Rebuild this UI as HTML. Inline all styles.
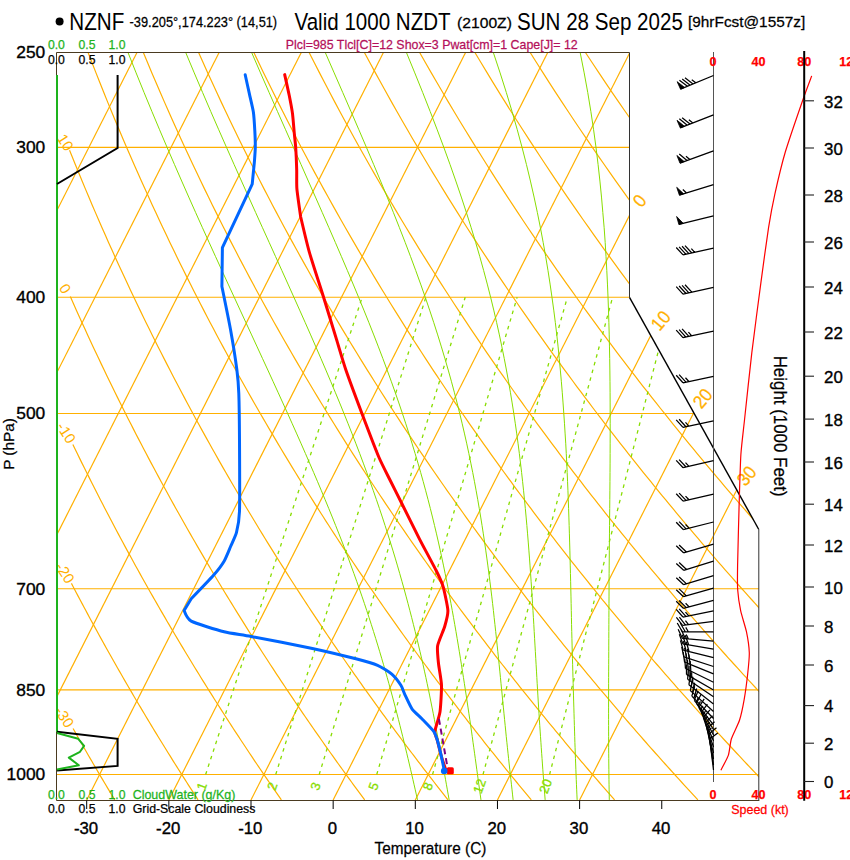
<!DOCTYPE html>
<html><head><meta charset="utf-8"><style>
html,body{margin:0;padding:0;background:#fff;width:850px;height:860px;overflow:hidden}
svg{display:block;font-family:'Liberation Sans', sans-serif}
</style></head><body>
<svg width="850" height="860" viewBox="0 0 850 860">
<rect width="850" height="860" fill="#fff"/>
<defs><clipPath id="sk"><polygon points="56.5,800.5 758.8,800.5 758.8,529.51 629.5,297.34 629.5,52.5 56.5,52.5"/></clipPath></defs>
<g clip-path="url(#sk)" fill="none">
<line x1="0" y1="774.5" x2="850" y2="774.5" stroke="#FFB000" stroke-width="1.15"/>
<line x1="0" y1="689.85" x2="850" y2="689.85" stroke="#FFB000" stroke-width="1.15"/>
<line x1="0" y1="588.73" x2="850" y2="588.73" stroke="#FFB000" stroke-width="1.15"/>
<line x1="0" y1="413.49" x2="850" y2="413.49" stroke="#FFB000" stroke-width="1.15"/>
<line x1="0" y1="297.27" x2="850" y2="297.27" stroke="#FFB000" stroke-width="1.15"/>
<line x1="0" y1="147.43" x2="850" y2="147.43" stroke="#FFB000" stroke-width="1.15"/>
<line x1="-241.9" y1="799.91" x2="136.98" y2="52.48" stroke="#FFB000" stroke-width="1.2"/>
<line x1="-159.75" y1="799.91" x2="219.13" y2="52.48" stroke="#FFB000" stroke-width="1.2"/>
<line x1="-77.6" y1="799.91" x2="301.28" y2="52.48" stroke="#FFB000" stroke-width="1.2"/>
<line x1="4.55" y1="799.91" x2="383.43" y2="52.48" stroke="#FFB000" stroke-width="1.2"/>
<line x1="86.7" y1="799.91" x2="465.58" y2="52.48" stroke="#FFB000" stroke-width="1.2"/>
<line x1="168.85" y1="799.91" x2="547.73" y2="52.48" stroke="#FFB000" stroke-width="1.2"/>
<line x1="251" y1="799.91" x2="629.88" y2="52.48" stroke="#FFB000" stroke-width="1.2"/>
<line x1="333.16" y1="799.91" x2="712.03" y2="52.48" stroke="#FFB000" stroke-width="1.2"/>
<line x1="415.31" y1="799.91" x2="794.18" y2="52.48" stroke="#FFB000" stroke-width="1.2"/>
<line x1="497.46" y1="799.91" x2="876.33" y2="52.48" stroke="#FFB000" stroke-width="1.2"/>
<line x1="579.61" y1="799.91" x2="958.48" y2="52.48" stroke="#FFB000" stroke-width="1.2"/>
<polyline points="114.77,799.91 113.27,797.42 111.76,794.92 110.25,792.41 108.74,789.89 107.22,787.36 105.7,784.81 104.18,782.25 102.65,779.68 101.12,777.09 99.59,774.5 98.05,771.89 96.51,769.26 94.96,766.63 93.41,763.98 91.86,761.31 90.3,758.63 88.74,755.94 87.18,753.24 85.61,750.52 84.04,747.78 82.46,745.03 80.88,742.27 79.3,739.49 77.71,736.7 76.12,733.89 74.53,731.07 73.08,728.5" stroke="#FFB000" stroke-width="1.2"/>
<polyline points="198.08,799.91 196.46,797.42 194.84,794.92 193.22,792.41 191.59,789.89 189.96,787.36 188.32,784.81 186.68,782.25 185.04,779.68 183.39,777.09 181.74,774.5 180.08,771.89 178.42,769.26 176.76,766.63 175.09,763.98 173.42,761.31 171.74,758.63 170.06,755.94 168.37,753.24 166.69,750.52 164.99,747.78 163.3,745.03 161.59,742.27 159.89,739.49 158.18,736.7 156.46,733.89 154.74,731.07 153.02,728.23 151.29,725.38 149.56,722.51 147.82,719.62 146.08,716.72 144.33,713.8 142.58,710.87 140.83,707.92 139.07,704.95 137.3,701.97 135.53,698.96 133.76,695.94 131.98,692.91 130.19,689.85 128.4,686.78 126.61,683.69 124.81,680.58 123.01,677.45 121.2,674.3 119.38,671.14 117.56,667.95 115.74,664.75 113.91,661.52 112.07,658.28 110.23,655.01 108.39,651.73 106.54,648.42 104.68,645.09 102.82,641.74 100.95,638.37 99.08,634.98 97.2,631.56 95.32,628.12 93.43,624.66 91.54,621.18 89.64,617.67 87.73,614.14 85.82,610.59 83.9,607.01 81.98,603.4 80.05,599.77 78.11,596.12 76.17,592.44 74.22,588.73 72.27,585 71.44,583.4" stroke="#FFB000" stroke-width="1.2"/>
<polyline points="281.38,799.91 279.65,797.42 277.92,794.92 276.18,792.41 274.43,789.89 272.69,787.36 270.94,784.81 269.18,782.25 267.42,779.68 265.66,777.09 263.89,774.5 262.11,771.89 260.33,769.26 258.55,766.63 256.77,763.98 254.97,761.31 253.18,758.63 251.38,755.94 249.57,753.24 247.76,750.52 245.95,747.78 244.13,745.03 242.3,742.27 240.47,739.49 238.64,736.7 236.8,733.89 234.96,731.07 233.11,728.23 231.26,725.38 229.4,722.51 227.53,719.62 225.66,716.72 223.79,713.8 221.91,710.87 220.03,707.92 218.14,704.95 216.24,701.97 214.34,698.96 212.44,695.94 210.53,692.91 208.61,689.85 206.69,686.78 204.76,683.69 202.83,680.58 200.89,677.45 198.95,674.3 197,671.14 195.05,667.95 193.08,664.75 191.12,661.52 189.15,658.28 187.17,655.01 185.18,651.73 183.19,648.42 181.2,645.09 179.2,641.74 177.19,638.37 175.17,634.98 173.15,631.56 171.13,628.12 169.09,624.66 167.05,621.18 165.01,617.67 162.96,614.14 160.9,610.59 158.83,607.01 156.76,603.4 154.68,599.77 152.6,596.12 150.5,592.44 148.41,588.73 146.3,585 144.19,581.24 142.07,577.45 139.94,573.63 137.81,569.79 135.67,565.92 133.52,562.02 131.36,558.08 129.2,554.12 127.03,550.13 124.85,546.11 122.67,542.06 120.48,537.97 118.28,533.86 116.07,529.71 113.85,525.52 111.63,521.31 109.4,517.05 107.16,512.77 104.91,508.44 102.65,504.09 100.39,499.69 98.12,495.26 95.84,490.79 93.55,486.28 91.25,481.73 88.94,477.14 86.63,472.51 84.3,467.84 81.97,463.13 79.63,458.37 77.28,453.57 74.92,448.72 72.87,444.5" stroke="#FFB000" stroke-width="1.2"/>
<polyline points="364.69,799.91 362.84,797.42 360.99,794.92 359.14,792.41 357.28,789.89 355.42,787.36 353.55,784.81 351.68,782.25 349.8,779.68 347.92,777.09 346.04,774.5 344.15,771.89 342.25,769.26 340.35,766.63 338.44,763.98 336.53,761.31 334.62,758.63 332.69,755.94 330.77,753.24 328.84,750.52 326.9,747.78 324.96,745.03 323.01,742.27 321.06,739.49 319.1,736.7 317.14,733.89 315.17,731.07 313.2,728.23 311.22,725.38 309.23,722.51 307.24,719.62 305.25,716.72 303.25,713.8 301.24,710.87 299.23,707.92 297.21,704.95 295.19,701.97 293.16,698.96 291.12,695.94 289.08,692.91 287.03,689.85 284.98,686.78 282.92,683.69 280.85,680.58 278.78,677.45 276.7,674.3 274.62,671.14 272.53,667.95 270.43,664.75 268.33,661.52 266.22,658.28 264.1,655.01 261.98,651.73 259.85,648.42 257.71,645.09 255.57,641.74 253.42,638.37 251.26,634.98 249.1,631.56 246.93,628.12 244.75,624.66 242.57,621.18 240.38,617.67 238.18,614.14 235.98,610.59 233.76,607.01 231.54,603.4 229.32,599.77 227.08,596.12 224.84,592.44 222.59,588.73 220.33,585 218.07,581.24 215.79,577.45 213.51,573.63 211.22,569.79 208.93,565.92 206.62,562.02 204.31,558.08 201.99,554.12 199.66,550.13 197.32,546.11 194.97,542.06 192.62,537.97 190.26,533.86 187.88,529.71 185.5,525.52 183.11,521.31 180.72,517.05 178.31,512.77 175.89,508.44 173.47,504.09 171.03,499.69 168.59,495.26 166.13,490.79 163.67,486.28 161.2,481.73 158.72,477.14 156.22,472.51 153.72,467.84 151.21,463.13 148.69,458.37 146.15,453.57 143.61,448.72 141.06,443.83 138.49,438.9 135.92,433.91 133.34,428.88 130.74,423.8 128.13,418.67 125.51,413.49 122.89,408.25 120.25,402.96 117.59,397.62 114.93,392.23 112.26,386.77 109.57,381.26 106.87,375.69 104.16,370.06 101.44,364.37 98.7,358.61 95.95,352.79 93.19,346.91 90.42,340.95 87.63,334.93 84.84,328.84 82.02,322.68 79.2,316.44 76.36,310.13 73.51,303.74 70.64,297.27 70.31,296.5" stroke="#FFB000" stroke-width="1.2"/>
<polyline points="447.99,799.91 446.03,797.42 444.07,794.92 442.1,792.41 440.13,789.89 438.15,787.36 436.17,784.81 434.18,782.25 432.19,779.68 430.19,777.09 428.19,774.5 426.18,771.89 424.16,769.26 422.14,766.63 420.12,763.98 418.09,761.31 416.05,758.63 414.01,755.94 411.96,753.24 409.91,750.52 407.85,747.78 405.79,745.03 403.72,742.27 401.65,739.49 399.57,736.7 397.48,733.89 395.39,731.07 393.29,728.23 391.18,725.38 389.07,722.51 386.96,719.62 384.83,716.72 382.71,713.8 380.57,710.87 378.43,707.92 376.28,704.95 374.13,701.97 371.97,698.96 369.8,695.94 367.63,692.91 365.45,689.85 363.26,686.78 361.07,683.69 358.87,680.58 356.67,677.45 354.45,674.3 352.23,671.14 350.01,667.95 347.78,664.75 345.54,661.52 343.29,658.28 341.03,655.01 338.77,651.73 336.5,648.42 334.23,645.09 331.94,641.74 329.65,638.37 327.36,634.98 325.05,631.56 322.74,628.12 320.42,624.66 318.09,621.18 315.75,617.67 313.41,614.14 311.05,610.59 308.69,607.01 306.33,603.4 303.95,599.77 301.57,596.12 299.17,592.44 296.77,588.73 294.36,585 291.94,581.24 289.52,577.45 287.08,573.63 284.64,569.79 282.19,565.92 279.73,562.02 277.25,558.08 274.77,554.12 272.29,550.13 269.79,546.11 267.28,542.06 264.76,537.97 262.24,533.86 259.7,529.71 257.16,525.52 254.6,521.31 252.04,517.05 249.46,512.77 246.88,508.44 244.28,504.09 241.68,499.69 239.06,495.26 236.43,490.79 233.8,486.28 231.15,481.73 228.49,477.14 225.82,472.51 223.14,467.84 220.45,463.13 217.75,458.37 215.03,453.57 212.31,448.72 209.57,443.83 206.82,438.9 204.06,433.91 201.28,428.88 198.5,423.8 195.7,418.67 192.89,413.49 190.07,408.25 187.23,402.96 184.39,397.62 181.53,392.23 178.65,386.77 175.76,381.26 172.86,375.69 169.95,370.06 167.02,364.37 164.08,358.61 161.12,352.79 158.15,346.91 155.17,340.95 152.17,334.93 149.15,328.84 146.12,322.68 143.08,316.44 140.02,310.13 136.95,303.74 133.86,297.27 130.75,290.72 127.63,284.08 124.49,277.36 121.33,270.55 118.16,263.65 114.97,256.66 111.77,249.58 108.54,242.39 105.3,235.11 102.04,227.72 98.77,220.23 95.47,212.62 92.16,204.91 88.83,197.07 85.48,189.12 82.11,181.05 78.72,172.84 75.31,164.51 71.89,156.04 69.55,150.2" stroke="#FFB000" stroke-width="1.2"/>
<polyline points="531.3,799.91 529.22,797.42 527.15,794.92 525.07,792.41 522.98,789.89 520.88,787.36 518.79,784.81 516.68,782.25 514.57,779.68 512.46,777.09 510.34,774.5 508.21,771.89 506.08,769.26 503.94,766.63 501.8,763.98 499.65,761.31 497.49,758.63 495.33,755.94 493.16,753.24 490.99,750.52 488.81,747.78 486.62,745.03 484.43,742.27 482.23,739.49 480.03,736.7 477.82,733.89 475.6,731.07 473.38,728.23 471.15,725.38 468.91,722.51 466.67,719.62 464.42,716.72 462.16,713.8 459.9,710.87 457.63,707.92 455.35,704.95 453.07,701.97 450.78,698.96 448.48,695.94 446.18,692.91 443.87,689.85 441.55,686.78 439.23,683.69 436.89,680.58 434.55,677.45 432.21,674.3 429.85,671.14 427.49,667.95 425.12,664.75 422.74,661.52 420.36,658.28 417.97,655.01 415.57,651.73 413.16,648.42 410.74,645.09 408.32,641.74 405.89,638.37 403.45,634.98 401,631.56 398.54,628.12 396.08,624.66 393.6,621.18 391.12,617.67 388.63,614.14 386.13,610.59 383.63,607.01 381.11,603.4 378.59,599.77 376.05,596.12 373.51,592.44 370.96,588.73 368.39,585 365.82,581.24 363.24,577.45 360.65,573.63 358.06,569.79 355.45,565.92 352.83,562.02 350.2,558.08 347.56,554.12 344.91,550.13 342.26,546.11 339.59,542.06 336.91,537.97 334.22,533.86 331.52,529.71 328.81,525.52 326.09,521.31 323.36,517.05 320.61,512.77 317.86,508.44 315.1,504.09 312.32,499.69 309.53,495.26 306.73,490.79 303.92,486.28 301.1,481.73 298.26,477.14 295.42,472.51 292.56,467.84 289.69,463.13 286.8,458.37 283.91,453.57 281,448.72 278.08,443.83 275.14,438.9 272.2,433.91 269.23,428.88 266.26,423.8 263.27,418.67 260.27,413.49 257.25,408.25 254.22,402.96 251.18,397.62 248.12,392.23 245.05,386.77 241.96,381.26 238.86,375.69 235.74,370.06 232.6,364.37 229.46,358.61 226.29,352.79 223.11,346.91 219.91,340.95 216.7,334.93 213.47,328.84 210.22,322.68 206.96,316.44 203.68,310.13 200.38,303.74 197.07,297.27 193.73,290.72 190.38,284.08 187.01,277.36 183.62,270.55 180.22,263.65 176.79,256.66 173.34,249.58 169.88,242.39 166.39,235.11 162.89,227.72 159.36,220.23 155.81,212.62 152.25,204.91 148.66,197.07 145.05,189.12 141.41,181.05 137.76,172.84 134.08,164.51 130.38,156.04 126.66,147.43 122.91,138.68 119.14,129.78 115.35,120.72 111.53,111.5 107.68,102.12 103.81,92.56 99.92,82.82 96,72.9 92.05,62.79 88.08,52.48" stroke="#FFB000" stroke-width="1.2"/>
<polyline points="614.6,799.91 612.42,797.42 610.22,794.92 608.03,792.41 605.83,789.89 603.62,787.36 601.4,784.81 599.18,782.25 596.96,779.68 594.72,777.09 592.49,774.5 590.24,771.89 587.99,769.26 585.74,766.63 583.47,763.98 581.2,761.31 578.93,758.63 576.65,755.94 574.36,753.24 572.06,750.52 569.76,747.78 567.45,745.03 565.14,742.27 562.82,739.49 560.49,736.7 558.16,733.89 555.81,731.07 553.47,728.23 551.11,725.38 548.75,722.51 546.38,719.62 544,716.72 541.62,713.8 539.23,710.87 536.83,707.92 534.43,704.95 532.01,701.97 529.59,698.96 527.17,695.94 524.73,692.91 522.29,689.85 519.84,686.78 517.38,683.69 514.91,680.58 512.44,677.45 509.96,674.3 507.47,671.14 504.97,667.95 502.47,664.75 499.95,661.52 497.43,658.28 494.9,655.01 492.36,651.73 489.81,648.42 487.26,645.09 484.69,641.74 482.12,638.37 479.54,634.98 476.95,631.56 474.35,628.12 471.74,624.66 469.12,621.18 466.49,617.67 463.86,614.14 461.21,610.59 458.56,607.01 455.89,603.4 453.22,599.77 450.54,596.12 447.84,592.44 445.14,588.73 442.43,585 439.7,581.24 436.97,577.45 434.23,573.63 431.47,569.79 428.71,565.92 425.93,562.02 423.15,558.08 420.35,554.12 417.54,550.13 414.72,546.11 411.89,542.06 409.05,537.97 406.2,533.86 403.34,529.71 400.46,525.52 397.58,521.31 394.68,517.05 391.77,512.77 388.84,508.44 385.91,504.09 382.96,499.69 380,495.26 377.03,490.79 374.05,486.28 371.05,481.73 368.04,477.14 365.01,472.51 361.98,467.84 358.93,463.13 355.86,458.37 352.79,453.57 349.69,448.72 346.59,443.83 343.47,438.9 340.33,433.91 337.18,428.88 334.02,423.8 330.84,418.67 327.65,413.49 324.44,408.25 321.21,402.96 317.97,397.62 314.72,392.23 311.44,386.77 308.16,381.26 304.85,375.69 301.53,370.06 298.19,364.37 294.83,358.61 291.46,352.79 288.07,346.91 284.66,340.95 281.23,334.93 277.79,328.84 274.32,322.68 270.84,316.44 267.34,310.13 263.82,303.74 260.28,297.27 256.72,290.72 253.14,284.08 249.54,277.36 245.91,270.55 242.27,263.65 238.61,256.66 234.92,249.58 231.21,242.39 227.48,235.11 223.73,227.72 219.95,220.23 216.16,212.62 212.33,204.91 208.49,197.07 204.61,189.12 200.72,181.05 196.8,172.84 192.85,164.51 188.88,156.04 184.88,147.43 180.85,138.68 176.8,129.78 172.72,120.72 168.61,111.5 164.47,102.12 160.3,92.56 156.11,82.82 151.88,72.9 147.63,62.79 143.34,52.48" stroke="#FFB000" stroke-width="1.2"/>
<polyline points="697.9,799.91 695.61,797.42 693.3,794.92 690.99,792.41 688.67,789.89 686.35,787.36 684.02,784.81 681.68,782.25 679.34,779.68 676.99,777.09 674.64,774.5 672.28,771.89 669.91,769.26 667.53,766.63 665.15,763.98 662.76,761.31 660.37,758.63 657.96,755.94 655.55,753.24 653.14,750.52 650.72,747.78 648.29,745.03 645.85,742.27 643.4,739.49 640.95,736.7 638.49,733.89 636.03,731.07 633.56,728.23 631.07,725.38 628.59,722.51 626.09,719.62 623.59,716.72 621.08,713.8 618.56,710.87 616.03,707.92 613.5,704.95 610.96,701.97 608.41,698.96 605.85,695.94 603.28,692.91 600.71,689.85 598.13,686.78 595.53,683.69 592.94,680.58 590.33,677.45 587.71,674.3 585.09,671.14 582.45,667.95 579.81,664.75 577.16,661.52 574.5,658.28 571.83,655.01 569.16,651.73 566.47,648.42 563.77,645.09 561.07,641.74 558.35,638.37 555.63,634.98 552.9,631.56 550.15,628.12 547.4,624.66 544.64,621.18 541.87,617.67 539.08,614.14 536.29,610.59 533.49,607.01 530.68,603.4 527.85,599.77 525.02,596.12 522.18,592.44 519.32,588.73 516.46,585 513.58,581.24 510.69,577.45 507.8,573.63 504.89,569.79 501.97,565.92 499.03,562.02 496.09,558.08 493.14,554.12 490.17,550.13 487.19,546.11 484.2,542.06 481.2,537.97 478.18,533.86 475.15,529.71 472.12,525.52 469.06,521.31 466,517.05 462.92,512.77 459.83,508.44 456.72,504.09 453.61,499.69 450.48,495.26 447.33,490.79 444.17,486.28 441,481.73 437.81,477.14 434.61,472.51 431.4,467.84 428.17,463.13 424.92,458.37 421.66,453.57 418.39,448.72 415.1,443.83 411.79,438.9 408.47,433.91 405.13,428.88 401.78,423.8 398.41,418.67 395.02,413.49 391.62,408.25 388.2,402.96 384.77,397.62 381.31,392.23 377.84,386.77 374.35,381.26 370.84,375.69 367.32,370.06 363.77,364.37 360.21,358.61 356.63,352.79 353.03,346.91 349.41,340.95 345.77,334.93 342.11,328.84 338.42,322.68 334.72,316.44 331,310.13 327.26,303.74 323.49,297.27 319.7,290.72 315.89,284.08 312.06,277.36 308.21,270.55 304.33,263.65 300.43,256.66 296.5,249.58 292.55,242.39 288.57,235.11 284.57,227.72 280.55,220.23 276.5,212.62 272.42,204.91 268.31,197.07 264.18,189.12 260.02,181.05 255.83,172.84 251.62,164.51 247.37,156.04 243.1,147.43 238.79,138.68 234.46,129.78 230.09,120.72 225.69,111.5 221.26,102.12 216.8,92.56 212.3,82.82 207.77,72.9 203.2,62.79 198.6,52.48" stroke="#FFB000" stroke-width="1.2"/>
<polyline points="781.21,799.91 778.8,797.42 776.38,794.92 773.95,792.41 771.52,789.89 769.08,787.36 766.64,784.81 764.18,782.25 761.73,779.68 759.26,777.09 756.79,774.5 754.31,771.89 751.82,769.26 749.33,766.63 746.83,763.98 744.32,761.31 741.8,758.63 739.28,755.94 736.75,753.24 734.21,750.52 731.67,747.78 729.12,745.03 726.56,742.27 723.99,739.49 721.42,736.7 718.83,733.89 716.24,731.07 713.65,728.23 711.04,725.38 708.42,722.51 705.8,719.62 703.17,716.72 700.53,713.8 697.89,710.87 695.23,707.92 692.57,704.95 689.9,701.97 687.22,698.96 684.53,695.94 681.83,692.91 679.13,689.85 676.41,686.78 673.69,683.69 670.96,680.58 668.21,677.45 665.46,674.3 662.7,671.14 659.94,667.95 657.16,664.75 654.37,661.52 651.57,658.28 648.77,655.01 645.95,651.73 643.12,648.42 640.29,645.09 637.44,641.74 634.59,638.37 631.72,634.98 628.85,631.56 625.96,628.12 623.06,624.66 620.16,621.18 617.24,617.67 614.31,614.14 611.37,610.59 608.42,607.01 605.46,603.4 602.49,599.77 599.51,596.12 596.51,592.44 593.51,588.73 590.49,585 587.46,581.24 584.42,577.45 581.37,573.63 578.3,569.79 575.23,565.92 572.14,562.02 569.04,558.08 565.92,554.12 562.8,550.13 559.66,546.11 556.51,542.06 553.34,537.97 550.16,533.86 546.97,529.71 543.77,525.52 540.55,521.31 537.32,517.05 534.07,512.77 530.81,508.44 527.54,504.09 524.25,499.69 520.95,495.26 517.63,490.79 514.3,486.28 510.95,481.73 507.59,477.14 504.21,472.51 500.81,467.84 497.41,463.13 493.98,458.37 490.54,453.57 487.08,448.72 483.61,443.83 480.12,438.9 476.61,433.91 473.08,428.88 469.54,423.8 465.98,418.67 462.4,413.49 458.81,408.25 455.19,402.96 451.56,397.62 447.91,392.23 444.24,386.77 440.55,381.26 436.84,375.69 433.11,370.06 429.36,364.37 425.59,358.61 421.8,352.79 417.99,346.91 414.15,340.95 410.3,334.93 406.42,328.84 402.52,322.68 398.6,316.44 394.66,310.13 390.69,303.74 386.7,297.27 382.69,290.72 378.65,284.08 374.59,277.36 370.5,270.55 366.38,263.65 362.24,256.66 358.08,249.58 353.88,242.39 349.66,235.11 345.42,227.72 341.14,220.23 336.84,212.62 332.5,204.91 328.14,197.07 323.75,189.12 319.32,181.05 314.87,172.84 310.38,164.51 305.87,156.04 301.32,147.43 296.73,138.68 292.11,129.78 287.46,120.72 282.77,111.5 278.05,102.12 273.29,92.56 268.49,82.82 263.65,72.9 258.78,62.79 253.86,52.48" stroke="#FFB000" stroke-width="1.2"/>
<polyline points="864.51,799.91 861.99,797.42 859.45,794.92 856.92,792.41 854.37,789.89 851.81,787.36 849.25,784.81 846.69,782.25 844.11,779.68 841.53,777.09 838.94,774.5 836.34,771.89 833.74,769.26 831.12,766.63 828.5,763.98 825.88,761.31 823.24,758.63 820.6,755.94 817.95,753.24 815.29,750.52 812.62,747.78 809.95,745.03 807.27,742.27 804.58,739.49 801.88,736.7 799.17,733.89 796.46,731.07 793.73,728.23 791,725.38 788.26,722.51 785.51,719.62 782.76,716.72 779.99,713.8 777.22,710.87 774.43,707.92 771.64,704.95 768.84,701.97 766.03,698.96 763.21,695.94 760.38,692.91 757.55,689.85 754.7,686.78 751.84,683.69 748.98,680.58 746.1,677.45 743.22,674.3 740.32,671.14 737.42,667.95 734.5,664.75 731.58,661.52 728.64,658.28 725.7,655.01 722.74,651.73 719.78,648.42 716.8,645.09 713.82,641.74 710.82,638.37 707.81,634.98 704.79,631.56 701.77,628.12 698.72,624.66 695.67,621.18 692.61,617.67 689.54,614.14 686.45,610.59 683.35,607.01 680.24,603.4 677.12,599.77 673.99,596.12 670.85,592.44 667.69,588.73 664.52,585 661.34,581.24 658.14,577.45 654.94,573.63 651.72,569.79 648.49,565.92 645.24,562.02 641.98,558.08 638.71,554.12 635.42,550.13 632.13,546.11 628.81,542.06 625.49,537.97 622.14,533.86 618.79,529.71 615.42,525.52 612.04,521.31 608.64,517.05 605.22,512.77 601.8,508.44 598.35,504.09 594.89,499.69 591.42,495.26 587.93,490.79 584.42,486.28 580.9,481.73 577.36,477.14 573.81,472.51 570.23,467.84 566.64,463.13 563.04,458.37 559.42,453.57 555.77,448.72 552.12,443.83 548.44,438.9 544.75,433.91 541.03,428.88 537.3,423.8 533.55,418.67 529.78,413.49 525.99,408.25 522.18,402.96 518.35,397.62 514.5,392.23 510.63,386.77 506.74,381.26 502.83,375.69 498.9,370.06 494.94,364.37 490.97,358.61 486.97,352.79 482.94,346.91 478.9,340.95 474.83,334.93 470.74,328.84 466.62,322.68 462.48,316.44 458.32,310.13 454.13,303.74 449.91,297.27 445.67,290.72 441.4,284.08 437.11,277.36 432.79,270.55 428.44,263.65 424.06,256.66 419.65,249.58 415.22,242.39 410.75,235.11 406.26,227.72 401.73,220.23 397.18,212.62 392.59,204.91 387.97,197.07 383.32,189.12 378.63,181.05 373.91,172.84 369.15,164.51 364.36,156.04 359.53,147.43 354.67,138.68 349.77,129.78 344.83,120.72 339.85,111.5 334.84,102.12 329.78,92.56 324.68,82.82 319.54,72.9 314.35,62.79 309.12,52.48" stroke="#FFB000" stroke-width="1.2"/>
<polyline points="947.82,799.91 945.18,797.42 942.53,794.92 939.88,792.41 937.22,789.89 934.55,787.36 931.87,784.81 929.19,782.25 926.49,779.68 923.79,777.09 921.09,774.5 918.37,771.89 915.65,769.26 912.92,766.63 910.18,763.98 907.43,761.31 904.68,758.63 901.92,755.94 899.14,753.24 896.37,750.52 893.58,747.78 890.78,745.03 887.98,742.27 885.16,739.49 882.34,736.7 879.51,733.89 876.67,731.07 873.82,728.23 870.97,725.38 868.1,722.51 865.23,719.62 862.34,716.72 859.45,713.8 856.55,710.87 853.64,707.92 850.71,704.95 847.78,701.97 844.84,698.96 841.89,695.94 838.93,692.91 835.97,689.85 832.99,686.78 830,683.69 827,680.58 823.99,677.45 820.97,674.3 817.94,671.14 814.9,667.95 811.85,664.75 808.79,661.52 805.72,658.28 802.63,655.01 799.54,651.73 796.43,648.42 793.32,645.09 790.19,641.74 787.05,638.37 783.9,634.98 780.74,631.56 777.57,628.12 774.39,624.66 771.19,621.18 767.98,617.67 764.76,614.14 761.53,610.59 758.28,607.01 755.03,603.4 751.76,599.77 748.48,596.12 745.18,592.44 741.87,588.73 738.55,585 735.22,581.24 731.87,577.45 728.51,573.63 725.13,569.79 721.75,565.92 718.34,562.02 714.93,558.08 711.5,554.12 708.05,550.13 704.59,546.11 701.12,542.06 697.63,537.97 694.13,533.86 690.61,529.71 687.07,525.52 683.52,521.31 679.96,517.05 676.38,512.77 672.78,508.44 669.17,504.09 665.54,499.69 661.89,495.26 658.23,490.79 654.55,486.28 650.85,481.73 647.13,477.14 643.4,472.51 639.65,467.84 635.88,463.13 632.1,458.37 628.29,453.57 624.47,448.72 620.63,443.83 616.76,438.9 612.88,433.91 608.98,428.88 605.06,423.8 601.12,418.67 597.16,413.49 593.17,408.25 589.17,402.96 585.14,397.62 581.1,392.23 577.03,386.77 572.94,381.26 568.82,375.69 564.69,370.06 560.53,364.37 556.34,358.61 552.14,352.79 547.9,346.91 543.65,340.95 539.36,334.93 535.06,328.84 530.72,322.68 526.37,316.44 521.98,310.13 517.57,303.74 513.13,297.27 508.66,290.72 504.16,284.08 499.63,277.36 495.08,270.55 490.49,263.65 485.88,256.66 481.23,249.58 476.55,242.39 471.85,235.11 467.1,227.72 462.33,220.23 457.52,212.62 452.68,204.91 447.8,197.07 442.88,189.12 437.93,181.05 432.94,172.84 427.92,164.51 422.86,156.04 417.75,147.43 412.61,138.68 407.43,129.78 402.2,120.72 396.93,111.5 391.62,102.12 386.27,92.56 380.87,82.82 375.42,72.9 369.93,62.79 364.39,52.48" stroke="#FFB000" stroke-width="1.2"/>
<polyline points="1031.12,799.91 1028.37,797.42 1025.61,794.92 1022.84,792.41 1020.06,789.89 1017.28,787.36 1014.49,784.81 1011.69,782.25 1008.88,779.68 1006.06,777.09 1003.24,774.5 1000.41,771.89 997.56,769.26 994.71,766.63 991.86,763.98 988.99,761.31 986.12,758.63 983.23,755.94 980.34,753.24 977.44,750.52 974.53,747.78 971.61,745.03 968.69,742.27 965.75,739.49 962.8,736.7 959.85,733.89 956.89,731.07 953.91,728.23 950.93,725.38 947.94,722.51 944.94,719.62 941.93,716.72 938.91,713.8 935.88,710.87 932.84,707.92 929.79,704.95 926.73,701.97 923.66,698.96 920.58,695.94 917.49,692.91 914.38,689.85 911.27,686.78 908.15,683.69 905.02,680.58 901.88,677.45 898.72,674.3 895.56,671.14 892.38,667.95 889.19,664.75 886,661.52 882.79,658.28 879.57,655.01 876.33,651.73 873.09,648.42 869.83,645.09 866.57,641.74 863.29,638.37 860,634.98 856.69,631.56 853.38,628.12 850.05,624.66 846.71,621.18 843.35,617.67 839.99,614.14 836.61,610.59 833.22,607.01 829.81,603.4 826.39,599.77 822.96,596.12 819.52,592.44 816.06,588.73 812.58,585 809.1,581.24 805.6,577.45 802.08,573.63 798.55,569.79 795.01,565.92 791.45,562.02 787.87,558.08 784.28,554.12 780.68,550.13 777.06,546.11 773.43,542.06 769.77,537.97 766.11,533.86 762.42,529.71 758.73,525.52 755.01,521.31 751.28,517.05 747.53,512.77 743.76,508.44 739.98,504.09 736.18,499.69 732.36,495.26 728.53,490.79 724.67,486.28 720.8,481.73 716.91,477.14 713,472.51 709.07,467.84 705.12,463.13 701.16,458.37 697.17,453.57 693.16,448.72 689.14,443.83 685.09,438.9 681.02,433.91 676.93,428.88 672.82,423.8 668.69,418.67 664.53,413.49 660.36,408.25 656.16,402.96 651.94,397.62 647.69,392.23 643.42,386.77 639.13,381.26 634.82,375.69 630.48,370.06 626.11,364.37 621.72,358.61 617.3,352.79 612.86,346.91 608.39,340.95 603.9,334.93 599.37,328.84 594.82,322.68 590.25,316.44 585.64,310.13 581,303.74 576.34,297.27 571.64,290.72 566.92,284.08 562.16,277.36 557.37,270.55 552.55,263.65 547.7,256.66 542.81,249.58 537.89,242.39 532.94,235.11 527.95,227.72 522.92,220.23 517.86,212.62 512.76,204.91 507.62,197.07 502.45,189.12 497.24,181.05 491.98,172.84 486.69,164.51 481.35,156.04 475.97,147.43 470.55,138.68 465.08,129.78 459.57,120.72 454.02,111.5 448.41,102.12 442.76,92.56 437.06,82.82 431.31,72.9 425.5,62.79 419.65,52.48" stroke="#FFB000" stroke-width="1.2"/>
<polyline points="1114.43,799.91 1111.56,797.42 1108.69,794.92 1105.8,792.41 1102.91,789.89 1100.01,787.36 1097.1,784.81 1094.19,782.25 1091.26,779.68 1088.33,777.09 1085.39,774.5 1082.44,771.89 1079.48,769.26 1076.51,766.63 1073.53,763.98 1070.55,761.31 1067.55,758.63 1064.55,755.94 1061.54,753.24 1058.52,750.52 1055.49,747.78 1052.44,745.03 1049.39,742.27 1046.34,739.49 1043.27,736.7 1040.19,733.89 1037.1,731.07 1034,728.23 1030.89,725.38 1027.78,722.51 1024.65,719.62 1021.51,716.72 1018.36,713.8 1015.21,710.87 1012.04,707.92 1008.86,704.95 1005.67,701.97 1002.47,698.96 999.26,695.94 996.04,692.91 992.8,689.85 989.56,686.78 986.31,683.69 983.04,680.58 979.76,677.45 976.47,674.3 973.17,671.14 969.86,667.95 966.54,664.75 963.2,661.52 959.86,658.28 956.5,655.01 953.13,651.73 949.74,648.42 946.35,645.09 942.94,641.74 939.52,638.37 936.09,634.98 932.64,631.56 929.18,628.12 925.71,624.66 922.22,621.18 918.73,617.67 915.21,614.14 911.69,610.59 908.15,607.01 904.59,603.4 901.03,599.77 897.45,596.12 893.85,592.44 890.24,588.73 886.61,585 882.97,581.24 879.32,577.45 875.65,573.63 871.97,569.79 868.27,565.92 864.55,562.02 860.82,558.08 857.07,554.12 853.31,550.13 849.53,546.11 845.73,542.06 841.92,537.97 838.09,533.86 834.24,529.71 830.38,525.52 826.5,521.31 822.6,517.05 818.68,512.77 814.75,508.44 810.79,504.09 806.82,499.69 802.83,495.26 798.83,490.79 794.8,486.28 790.75,481.73 786.68,477.14 782.6,472.51 778.49,467.84 774.36,463.13 770.21,458.37 766.05,453.57 761.86,448.72 757.65,443.83 753.41,438.9 749.16,433.91 744.88,428.88 740.58,423.8 736.26,418.67 731.91,413.49 727.54,408.25 723.15,402.96 718.73,397.62 714.29,392.23 709.82,386.77 705.33,381.26 700.81,375.69 696.27,370.06 691.7,364.37 687.1,358.61 682.47,352.79 677.82,346.91 673.14,340.95 668.43,334.93 663.69,328.84 658.92,322.68 654.13,316.44 649.3,310.13 644.44,303.74 639.55,297.27 634.63,290.72 629.67,284.08 624.68,277.36 619.66,270.55 614.61,263.65 609.51,256.66 604.39,249.58 599.23,242.39 594.03,235.11 588.79,227.72 583.51,220.23 578.2,212.62 572.85,204.91 567.45,197.07 562.02,189.12 556.54,181.05 551.02,172.84 545.45,164.51 539.85,156.04 534.19,147.43 528.49,138.68 522.74,129.78 516.94,120.72 511.1,111.5 505.2,102.12 499.25,92.56 493.25,82.82 487.19,72.9 481.08,62.79 474.91,52.48" stroke="#FFB000" stroke-width="1.2"/>
<polyline points="1197.73,799.91 1194.75,797.42 1191.76,794.92 1188.76,792.41 1185.76,789.89 1182.74,787.36 1179.72,784.81 1176.69,782.25 1173.65,779.68 1170.6,777.09 1167.54,774.5 1164.47,771.89 1161.39,769.26 1158.31,766.63 1155.21,763.98 1152.11,761.31 1148.99,758.63 1145.87,755.94 1142.73,753.24 1139.59,750.52 1136.44,747.78 1133.28,745.03 1130.1,742.27 1126.92,739.49 1123.73,736.7 1120.53,733.89 1117.31,731.07 1114.09,728.23 1110.86,725.38 1107.62,722.51 1104.36,719.62 1101.1,716.72 1097.82,713.8 1094.54,710.87 1091.24,707.92 1087.93,704.95 1084.61,701.97 1081.28,698.96 1077.94,695.94 1074.59,692.91 1071.22,689.85 1067.85,686.78 1064.46,683.69 1061.06,680.58 1057.65,677.45 1054.23,674.3 1050.79,671.14 1047.34,667.95 1043.89,664.75 1040.41,661.52 1036.93,658.28 1033.43,655.01 1029.92,651.73 1026.4,648.42 1022.86,645.09 1019.32,641.74 1015.75,638.37 1012.18,634.98 1008.59,631.56 1004.99,628.12 1001.37,624.66 997.74,621.18 994.1,617.67 990.44,614.14 986.77,610.59 983.08,607.01 979.38,603.4 975.66,599.77 971.93,596.12 968.18,592.44 964.42,588.73 960.65,585 956.85,581.24 953.05,577.45 949.22,573.63 945.38,569.79 941.53,565.92 937.65,562.02 933.76,558.08 929.86,554.12 925.93,550.13 921.99,546.11 918.04,542.06 914.06,537.97 910.07,533.86 906.06,529.71 902.03,525.52 897.98,521.31 893.92,517.05 889.83,512.77 885.73,508.44 881.61,504.09 877.47,499.69 873.31,495.26 869.12,490.79 864.92,486.28 860.7,481.73 856.46,477.14 852.19,472.51 847.91,467.84 843.6,463.13 839.27,458.37 834.92,453.57 830.55,448.72 826.15,443.83 821.74,438.9 817.29,433.91 812.83,428.88 808.34,423.8 803.83,418.67 799.29,413.49 794.73,408.25 790.14,402.96 785.52,397.62 780.88,392.23 776.22,386.77 771.52,381.26 766.8,375.69 762.06,370.06 757.28,364.37 752.47,358.61 747.64,352.79 742.78,346.91 737.89,340.95 732.96,334.93 728.01,328.84 723.02,322.68 718.01,316.44 712.96,310.13 707.88,303.74 702.76,297.27 697.61,290.72 692.43,284.08 687.21,277.36 681.95,270.55 676.66,263.65 671.33,256.66 665.97,249.58 660.56,242.39 655.12,235.11 649.63,227.72 644.11,220.23 638.54,212.62 632.93,204.91 627.28,197.07 621.58,189.12 615.84,181.05 610.06,172.84 604.22,164.51 598.34,156.04 592.41,147.43 586.43,138.68 580.4,129.78 574.32,120.72 568.18,111.5 561.99,102.12 555.74,92.56 549.44,82.82 543.07,72.9 536.65,62.79 530.17,52.48" stroke="#FFB000" stroke-width="1.2"/>
<polyline points="1281.04,799.91 1277.94,797.42 1274.84,794.92 1271.73,792.41 1268.61,789.89 1265.48,787.36 1262.34,784.81 1259.19,782.25 1256.03,779.68 1252.86,777.09 1249.69,774.5 1246.5,771.89 1243.31,769.26 1240.1,766.63 1236.89,763.98 1233.66,761.31 1230.43,758.63 1227.19,755.94 1223.93,753.24 1220.67,750.52 1217.39,747.78 1214.11,745.03 1210.81,742.27 1207.51,739.49 1204.19,736.7 1200.87,733.89 1197.53,731.07 1194.18,728.23 1190.82,725.38 1187.45,722.51 1184.07,719.62 1180.68,716.72 1177.28,713.8 1173.86,710.87 1170.44,707.92 1167,704.95 1163.55,701.97 1160.09,698.96 1156.62,695.94 1153.14,692.91 1149.64,689.85 1146.13,686.78 1142.61,683.69 1139.08,680.58 1135.54,677.45 1131.98,674.3 1128.41,671.14 1124.83,667.95 1121.23,664.75 1117.62,661.52 1114,658.28 1110.37,655.01 1106.72,651.73 1103.06,648.42 1099.38,645.09 1095.69,641.74 1091.99,638.37 1088.27,634.98 1084.54,631.56 1080.79,628.12 1077.03,624.66 1073.26,621.18 1069.47,617.67 1065.67,614.14 1061.85,610.59 1058.01,607.01 1054.16,603.4 1050.3,599.77 1046.42,596.12 1042.52,592.44 1038.61,588.73 1034.68,585 1030.73,581.24 1026.77,577.45 1022.79,573.63 1018.8,569.79 1014.79,565.92 1010.76,562.02 1006.71,558.08 1002.64,554.12 998.56,550.13 994.46,546.11 990.34,542.06 986.21,537.97 982.05,533.86 977.88,529.71 973.68,525.52 969.47,521.31 965.24,517.05 960.99,512.77 956.72,508.44 952.42,504.09 948.11,499.69 943.78,495.26 939.42,490.79 935.05,486.28 930.65,481.73 926.23,477.14 921.79,472.51 917.33,467.84 912.84,463.13 908.33,458.37 903.8,453.57 899.24,448.72 894.66,443.83 890.06,438.9 885.43,433.91 880.78,428.88 876.1,423.8 871.4,418.67 866.67,413.49 861.91,408.25 857.13,402.96 852.32,397.62 847.48,392.23 842.61,386.77 837.72,381.26 832.8,375.69 827.85,370.06 822.86,364.37 817.85,358.61 812.81,352.79 807.74,346.91 802.63,340.95 797.5,334.93 792.33,328.84 787.12,322.68 781.89,316.44 776.62,310.13 771.31,303.74 765.97,297.27 760.6,290.72 755.18,284.08 749.73,277.36 744.24,270.55 738.72,263.65 733.15,256.66 727.54,249.58 721.9,242.39 716.21,235.11 710.48,227.72 704.7,220.23 698.88,212.62 693.02,204.91 687.11,197.07 681.15,189.12 675.15,181.05 669.09,172.84 662.99,164.51 656.84,156.04 650.63,147.43 644.37,138.68 638.06,129.78 631.69,120.72 625.26,111.5 618.78,102.12 612.23,92.56 605.63,82.82 598.96,72.9 592.23,62.79 585.43,52.48" stroke="#FFB000" stroke-width="1.2"/>
<polyline points="1364.34,799.91 1361.13,797.42 1357.92,794.92 1354.69,792.41 1351.45,789.89 1348.21,787.36 1344.95,784.81 1341.69,782.25 1338.42,779.68 1335.13,777.09 1331.84,774.5 1328.54,771.89 1325.22,769.26 1321.9,766.63 1318.56,763.98 1315.22,761.31 1311.87,758.63 1308.5,755.94 1305.13,753.24 1301.74,750.52 1298.35,747.78 1294.94,745.03 1291.52,742.27 1288.09,739.49 1284.66,736.7 1281.2,733.89 1277.74,731.07 1274.27,728.23 1270.79,725.38 1267.29,722.51 1263.78,719.62 1260.27,716.72 1256.74,713.8 1253.19,710.87 1249.64,707.92 1246.07,704.95 1242.5,701.97 1238.91,698.96 1235.3,695.94 1231.69,692.91 1228.06,689.85 1224.42,686.78 1220.77,683.69 1217.1,680.58 1213.42,677.45 1209.73,674.3 1206.03,671.14 1202.31,667.95 1198.58,664.75 1194.83,661.52 1191.07,658.28 1187.3,655.01 1183.51,651.73 1179.71,648.42 1175.89,645.09 1172.07,641.74 1168.22,638.37 1164.36,634.98 1160.49,631.56 1156.6,628.12 1152.69,624.66 1148.78,621.18 1144.84,617.67 1140.89,614.14 1136.92,610.59 1132.94,607.01 1128.95,603.4 1124.93,599.77 1120.9,596.12 1116.85,592.44 1112.79,588.73 1108.71,585 1104.61,581.24 1100.5,577.45 1096.36,573.63 1092.21,569.79 1088.05,565.92 1083.86,562.02 1079.65,558.08 1075.43,554.12 1071.19,550.13 1066.93,546.11 1062.65,542.06 1058.35,537.97 1054.03,533.86 1049.69,529.71 1045.34,525.52 1040.96,521.31 1036.56,517.05 1032.14,512.77 1027.7,508.44 1023.24,504.09 1018.75,499.69 1014.25,495.26 1009.72,490.79 1005.17,486.28 1000.6,481.73 996.01,477.14 991.39,472.51 986.75,467.84 982.08,463.13 977.39,458.37 972.68,453.57 967.94,448.72 963.17,443.83 958.38,438.9 953.57,433.91 948.73,428.88 943.86,423.8 938.97,418.67 934.04,413.49 929.09,408.25 924.12,402.96 919.11,397.62 914.07,392.23 909.01,386.77 903.91,381.26 898.79,375.69 893.63,370.06 888.45,364.37 883.23,358.61 877.98,352.79 872.7,346.91 867.38,340.95 862.03,334.93 856.64,328.84 851.22,322.68 845.77,316.44 840.28,310.13 834.75,303.74 829.18,297.27 823.58,290.72 817.94,284.08 812.26,277.36 806.54,270.55 800.77,263.65 794.97,256.66 789.12,249.58 783.23,242.39 777.3,235.11 771.32,227.72 765.29,220.23 759.22,212.62 753.1,204.91 746.94,197.07 740.72,189.12 734.45,181.05 728.13,172.84 721.76,164.51 715.33,156.04 708.85,147.43 702.31,138.68 695.71,129.78 689.06,120.72 682.34,111.5 675.56,102.12 668.72,92.56 661.82,82.82 654.84,72.9 647.8,62.79 640.69,52.48" stroke="#FFB000" stroke-width="1.2"/>
<polyline points="1447.65,799.91 1444.32,797.42 1440.99,794.92 1437.65,792.41 1434.3,789.89 1430.94,787.36 1427.57,784.81 1424.19,782.25 1420.8,779.68 1417.4,777.09 1413.99,774.5 1410.57,771.89 1407.14,769.26 1403.69,766.63 1400.24,763.98 1396.78,761.31 1393.3,758.63 1389.82,755.94 1386.32,753.24 1382.82,750.52 1379.3,747.78 1375.77,745.03 1372.23,742.27 1368.68,739.49 1365.12,736.7 1361.54,733.89 1357.96,731.07 1354.36,728.23 1350.75,725.38 1347.13,722.51 1343.5,719.62 1339.85,716.72 1336.19,713.8 1332.52,710.87 1328.84,707.92 1325.15,704.95 1321.44,701.97 1317.72,698.96 1313.99,695.94 1310.24,692.91 1306.48,689.85 1302.71,686.78 1298.92,683.69 1295.12,680.58 1291.31,677.45 1287.48,674.3 1283.64,671.14 1279.79,667.95 1275.92,664.75 1272.04,661.52 1268.14,658.28 1264.23,655.01 1260.31,651.73 1256.37,648.42 1252.41,645.09 1248.44,641.74 1244.45,638.37 1240.45,634.98 1236.44,631.56 1232.4,628.12 1228.36,624.66 1224.29,621.18 1220.21,617.67 1216.12,614.14 1212,610.59 1207.87,607.01 1203.73,603.4 1199.57,599.77 1195.39,596.12 1191.19,592.44 1186.97,588.73 1182.74,585 1178.49,581.24 1174.22,577.45 1169.93,573.63 1165.63,569.79 1161.3,565.92 1156.96,562.02 1152.6,558.08 1148.22,554.12 1143.82,550.13 1139.4,546.11 1134.96,542.06 1130.5,537.97 1126.01,533.86 1121.51,529.71 1116.99,525.52 1112.45,521.31 1107.88,517.05 1103.29,512.77 1098.68,508.44 1094.05,504.09 1089.4,499.69 1084.72,495.26 1080.02,490.79 1075.3,486.28 1070.55,481.73 1065.78,477.14 1060.98,472.51 1056.16,467.84 1051.32,463.13 1046.45,458.37 1041.55,453.57 1036.63,448.72 1031.68,443.83 1026.71,438.9 1021.71,433.91 1016.68,428.88 1011.62,423.8 1006.53,418.67 1001.42,413.49 996.28,408.25 991.1,402.96 985.9,397.62 980.67,392.23 975.41,386.77 970.11,381.26 964.78,375.69 959.42,370.06 954.03,364.37 948.61,358.61 943.15,352.79 937.65,346.91 932.13,340.95 926.56,334.93 920.96,328.84 915.32,322.68 909.65,316.44 903.94,310.13 898.19,303.74 892.4,297.27 886.57,290.72 880.69,284.08 874.78,277.36 868.83,270.55 862.83,263.65 856.79,256.66 850.7,249.58 844.57,242.39 838.39,235.11 832.16,227.72 825.89,220.23 819.56,212.62 813.19,204.91 806.76,197.07 800.29,189.12 793.75,181.05 787.17,172.84 780.53,164.51 773.83,156.04 767.07,147.43 760.25,138.68 753.37,129.78 746.43,120.72 739.42,111.5 732.35,102.12 725.21,92.56 718.01,82.82 710.73,72.9 703.38,62.79 695.95,52.48" stroke="#FFB000" stroke-width="1.2"/>
<polyline points="1530.95,799.91 1527.52,797.42 1524.07,794.92 1520.61,792.41 1517.15,789.89 1513.67,787.36 1510.19,784.81 1506.69,782.25 1503.18,779.68 1499.67,777.09 1496.14,774.5 1492.6,771.89 1489.05,769.26 1485.49,766.63 1481.92,763.98 1478.34,761.31 1474.74,758.63 1471.14,755.94 1467.52,753.24 1463.89,750.52 1460.25,747.78 1456.6,745.03 1452.94,742.27 1449.27,739.49 1445.58,736.7 1441.88,733.89 1438.17,731.07 1434.45,728.23 1430.71,725.38 1426.97,722.51 1423.21,719.62 1419.44,716.72 1415.65,713.8 1411.85,710.87 1408.04,707.92 1404.22,704.95 1400.38,701.97 1396.53,698.96 1392.67,695.94 1388.79,692.91 1384.9,689.85 1381,686.78 1377.08,683.69 1373.14,680.58 1369.2,677.45 1365.24,674.3 1361.26,671.14 1357.27,667.95 1353.27,664.75 1349.25,661.52 1345.21,658.28 1341.17,655.01 1337.1,651.73 1333.02,648.42 1328.93,645.09 1324.81,641.74 1320.69,638.37 1316.54,634.98 1312.39,631.56 1308.21,628.12 1304.02,624.66 1299.81,621.18 1295.58,617.67 1291.34,614.14 1287.08,610.59 1282.81,607.01 1278.51,603.4 1274.2,599.77 1269.87,596.12 1265.52,592.44 1261.16,588.73 1256.77,585 1252.37,581.24 1247.95,577.45 1243.51,573.63 1239.04,569.79 1234.56,565.92 1230.07,562.02 1225.55,558.08 1221.01,554.12 1216.45,550.13 1211.86,546.11 1207.26,542.06 1202.64,537.97 1198,533.86 1193.33,529.71 1188.64,525.52 1183.93,521.31 1179.2,517.05 1174.45,512.77 1169.67,508.44 1164.87,504.09 1160.04,499.69 1155.19,495.26 1150.32,490.79 1145.42,486.28 1140.5,481.73 1135.55,477.14 1130.58,472.51 1125.58,467.84 1120.56,463.13 1115.51,458.37 1110.43,453.57 1105.33,448.72 1100.19,443.83 1095.03,438.9 1089.84,433.91 1084.63,428.88 1079.38,423.8 1074.1,418.67 1068.8,413.49 1063.46,408.25 1058.09,402.96 1052.7,397.62 1047.26,392.23 1041.8,386.77 1036.31,381.26 1030.78,375.69 1025.21,370.06 1019.62,364.37 1013.98,358.61 1008.32,352.79 1002.61,346.91 996.87,340.95 991.09,334.93 985.28,328.84 979.42,322.68 973.53,316.44 967.6,310.13 961.62,303.74 955.61,297.27 949.55,290.72 943.45,284.08 937.31,277.36 931.12,270.55 924.88,263.65 918.6,256.66 912.28,249.58 905.9,242.39 899.48,235.11 893.01,227.72 886.48,220.23 879.9,212.62 873.28,204.91 866.59,197.07 859.85,189.12 853.06,181.05 846.2,172.84 839.29,164.51 832.32,156.04 825.29,147.43 818.19,138.68 811.03,129.78 803.8,120.72 796.51,111.5 789.14,102.12 781.7,92.56 774.2,82.82 766.61,72.9 758.95,62.79 751.21,52.48" stroke="#FFB000" stroke-width="1.2"/>
<polyline points="1614.25,799.91 1610.71,797.42 1607.15,794.92 1603.58,792.41 1600,789.89 1596.41,787.36 1592.8,784.81 1589.19,782.25 1585.57,779.68 1581.93,777.09 1578.29,774.5 1574.63,771.89 1570.97,769.26 1567.29,766.63 1563.6,763.98 1559.89,761.31 1556.18,758.63 1552.45,755.94 1548.72,753.24 1544.97,750.52 1541.21,747.78 1537.44,745.03 1533.65,742.27 1529.85,739.49 1526.04,736.7 1522.22,733.89 1518.39,731.07 1514.54,728.23 1510.68,725.38 1506.81,722.51 1502.92,719.62 1499.02,716.72 1495.11,713.8 1491.18,710.87 1487.24,707.92 1483.29,704.95 1479.32,701.97 1475.34,698.96 1471.35,695.94 1467.34,692.91 1463.32,689.85 1459.28,686.78 1455.23,683.69 1451.17,680.58 1447.08,677.45 1442.99,674.3 1438.88,671.14 1434.75,667.95 1430.61,664.75 1426.46,661.52 1422.29,658.28 1418.1,655.01 1413.9,651.73 1409.68,648.42 1405.44,645.09 1401.19,641.74 1396.92,638.37 1392.64,634.98 1388.33,631.56 1384.02,628.12 1379.68,624.66 1375.33,621.18 1370.96,617.67 1366.57,614.14 1362.16,610.59 1357.74,607.01 1353.3,603.4 1348.83,599.77 1344.36,596.12 1339.86,592.44 1335.34,588.73 1330.8,585 1326.25,581.24 1321.67,577.45 1317.08,573.63 1312.46,569.79 1307.82,565.92 1303.17,562.02 1298.49,558.08 1293.79,554.12 1289.07,550.13 1284.33,546.11 1279.57,542.06 1274.78,537.97 1269.98,533.86 1265.15,529.71 1260.29,525.52 1255.42,521.31 1250.52,517.05 1245.6,512.77 1240.65,508.44 1235.68,504.09 1230.68,499.69 1225.66,495.26 1220.62,490.79 1215.55,486.28 1210.45,481.73 1205.33,477.14 1200.18,472.51 1195,467.84 1189.8,463.13 1184.57,458.37 1179.31,453.57 1174.02,448.72 1168.7,443.83 1163.36,438.9 1157.98,433.91 1152.58,428.88 1147.14,423.8 1141.67,418.67 1136.18,413.49 1130.65,408.25 1125.08,402.96 1119.49,397.62 1113.86,392.23 1108.2,386.77 1102.5,381.26 1096.77,375.69 1091,370.06 1085.2,364.37 1079.36,358.61 1073.49,352.79 1067.57,346.91 1061.62,340.95 1055.63,334.93 1049.6,328.84 1043.52,322.68 1037.41,316.44 1031.26,310.13 1025.06,303.74 1018.82,297.27 1012.54,290.72 1006.21,284.08 999.83,277.36 993.41,270.55 986.94,263.65 980.42,256.66 973.86,249.58 967.24,242.39 960.57,235.11 953.85,227.72 947.07,220.23 940.25,212.62 933.36,204.91 926.42,197.07 919.42,189.12 912.36,181.05 905.24,172.84 898.06,164.51 890.82,156.04 883.51,147.43 876.13,138.68 868.69,129.78 861.17,120.72 853.59,111.5 845.93,102.12 838.2,92.56 830.39,82.82 822.5,72.9 814.53,62.79 806.47,52.48" stroke="#FFB000" stroke-width="1.2"/>
<polyline points="1697.56,799.91 1693.9,797.42 1690.22,794.92 1686.54,792.41 1682.84,789.89 1679.14,787.36 1675.42,784.81 1671.69,782.25 1667.95,779.68 1664.2,777.09 1660.44,774.5 1656.67,771.89 1652.88,769.26 1649.08,766.63 1645.27,763.98 1641.45,761.31 1637.62,758.63 1633.77,755.94 1629.91,753.24 1626.04,750.52 1622.16,747.78 1618.27,745.03 1614.36,742.27 1610.44,739.49 1606.51,736.7 1602.56,733.89 1598.6,731.07 1594.63,728.23 1590.64,725.38 1586.64,722.51 1582.63,719.62 1578.61,716.72 1574.57,713.8 1570.51,710.87 1566.44,707.92 1562.36,704.95 1558.27,701.97 1554.16,698.96 1550.03,695.94 1545.89,692.91 1541.74,689.85 1537.57,686.78 1533.39,683.69 1529.19,680.58 1524.97,677.45 1520.74,674.3 1516.5,671.14 1512.24,667.95 1507.96,664.75 1503.67,661.52 1499.36,658.28 1495.03,655.01 1490.69,651.73 1486.33,648.42 1481.96,645.09 1477.56,641.74 1473.15,638.37 1468.73,634.98 1464.28,631.56 1459.82,628.12 1455.34,624.66 1450.84,621.18 1446.33,617.67 1441.79,614.14 1437.24,610.59 1432.67,607.01 1428.08,603.4 1423.47,599.77 1418.84,596.12 1414.19,592.44 1409.52,588.73 1404.83,585 1400.13,581.24 1395.4,577.45 1390.65,573.63 1385.88,569.79 1381.08,565.92 1376.27,562.02 1371.44,558.08 1366.58,554.12 1361.7,550.13 1356.8,546.11 1351.88,542.06 1346.93,537.97 1341.96,533.86 1336.96,529.71 1331.95,525.52 1326.91,521.31 1321.84,517.05 1316.75,512.77 1311.64,508.44 1306.49,504.09 1301.33,499.69 1296.14,495.26 1290.92,490.79 1285.67,486.28 1280.4,481.73 1275.1,477.14 1269.78,472.51 1264.42,467.84 1259.04,463.13 1253.63,458.37 1248.18,453.57 1242.71,448.72 1237.21,443.83 1231.68,438.9 1226.12,433.91 1220.53,428.88 1214.9,423.8 1209.24,418.67 1203.55,413.49 1197.83,408.25 1192.07,402.96 1186.28,397.62 1180.46,392.23 1174.59,386.77 1168.7,381.26 1162.76,375.69 1156.79,370.06 1150.79,364.37 1144.74,358.61 1138.65,352.79 1132.53,346.91 1126.37,340.95 1120.16,334.93 1113.91,328.84 1107.62,322.68 1101.29,316.44 1094.92,310.13 1088.5,303.74 1082.03,297.27 1075.52,290.72 1068.96,284.08 1062.36,277.36 1055.7,270.55 1049,263.65 1042.24,256.66 1035.43,249.58 1028.57,242.39 1021.66,235.11 1014.69,227.72 1007.67,220.23 1000.59,212.62 993.45,204.91 986.25,197.07 978.99,189.12 971.67,181.05 964.28,172.84 956.83,164.51 949.31,156.04 941.73,147.43 934.07,138.68 926.34,129.78 918.54,120.72 910.67,111.5 902.72,102.12 894.69,92.56 886.58,82.82 878.38,72.9 870.1,62.79 861.74,52.48" stroke="#FFB000" stroke-width="1.2"/>
<polyline points="417.55,799.91 416.42,794.92 415.28,789.89 414.12,784.81 412.95,779.68 411.76,774.5 410.54,769.26 409.31,763.98 408.04,758.63 406.75,753.24 405.43,747.78 404.12,742.27 402.75,736.7 401.35,731.07 399.93,725.38 398.47,719.62 396.97,713.8 395.44,707.92 393.87,701.97 392.27,695.94 390.62,689.85 388.92,683.69 387.18,677.45 385.4,671.14 383.56,664.75 381.67,658.28 379.72,651.73 377.72,645.09 375.66,638.37 373.54,631.56 371.35,624.66 369.09,617.67 366.76,610.59 364.36,603.4 361.88,596.12 359.32,588.73 356.68,581.24 353.96,573.63 351.14,565.92 348.27,558.08 345.28,550.13 342.17,542.06 338.96,533.86 335.65,525.52 332.25,517.05 328.74,508.44 325.14,499.69 321.42,490.79 317.6,481.73 313.67,472.51 309.62,463.13 305.46,453.57 301.19,443.83 296.79,433.91 292.27,423.8 287.64,413.49 282.87,402.96 277.99,392.23 272.97,381.26 267.83,370.06 262.56,358.61 257.16,346.91 251.63,334.93 245.96,322.68 240.16,310.13 234.23,297.27 228.15,284.08 221.94,270.55 215.59,256.66 209.1,242.39 202.46,227.72 195.68,212.62 188.76,197.07 181.69,181.05 174.47,164.51 167.1,147.43 159.58,129.78 151.91,111.5 144.09,92.56 136.12,72.9 127.99,52.48" stroke="#88DD00" stroke-width="1"/>
<polyline points="449.17,799.91 448.27,794.92 447.37,789.89 446.46,784.81 445.55,779.68 444.62,774.5 443.67,769.26 442.72,763.98 441.74,758.63 440.75,753.24 439.73,747.78 438.74,742.27 437.7,736.7 436.63,731.07 435.55,725.38 434.44,719.62 433.3,713.8 432.14,707.92 430.95,701.97 429.73,695.94 428.47,689.85 427.18,683.69 425.85,677.45 424.47,671.14 423.06,664.75 421.59,658.28 420.05,651.73 418.48,645.09 416.85,638.37 415.18,631.56 413.46,624.66 411.69,617.67 409.86,610.59 407.98,603.4 406.03,596.12 404.01,588.73 401.92,581.24 399.76,573.63 397.53,565.92 395.21,558.08 392.8,550.13 390.31,542.06 387.75,533.86 385.07,525.52 382.3,517.05 379.42,508.44 376.43,499.69 373.33,490.79 370.11,481.73 366.77,472.51 363.31,463.13 359.72,453.57 355.99,443.83 352.13,433.91 348.13,423.8 343.98,413.49 339.69,402.96 335.24,392.23 330.65,381.26 325.89,370.06 320.98,358.61 315.9,346.91 310.66,334.93 305.25,322.68 299.67,310.13 293.91,297.27 287.99,284.08 281.89,270.55 275.61,256.66 269.15,242.39 262.51,227.72 255.69,212.62 248.68,197.07 241.49,181.05 234.1,164.51 226.52,147.43 218.75,129.78 210.78,111.5 202.62,92.56 194.26,72.9 185.7,52.48" stroke="#88DD00" stroke-width="1"/>
<polyline points="480.98,799.91 480.28,794.92 479.59,789.89 478.89,784.81 478.18,779.68 477.48,774.5 476.76,769.26 476.04,763.98 475.31,758.63 474.56,753.24 473.8,747.78 473.02,742.27 472.27,736.7 471.48,731.07 470.67,725.38 469.82,719.62 468.95,713.8 468.07,707.92 467.18,701.97 466.27,695.94 465.35,689.85 464.4,683.69 463.44,677.45 462.45,671.14 461.44,664.75 460.41,658.28 459.35,651.73 458.26,645.09 457.13,638.37 455.98,631.56 454.78,624.66 453.55,617.67 452.27,610.59 450.95,603.4 449.59,596.12 448.17,588.73 446.69,581.24 445.16,573.63 443.57,565.92 441.91,558.08 440.18,550.13 438.38,542.06 436.5,533.86 434.53,525.52 432.47,517.05 430.32,508.44 428.07,499.69 425.71,490.79 423.25,481.73 420.67,472.51 417.97,463.13 415.14,453.57 412.17,443.83 409.07,433.91 405.82,423.8 402.42,413.49 398.85,402.96 395.12,392.23 391.22,381.26 387.14,370.06 382.88,358.61 378.43,346.91 373.78,334.93 368.93,322.68 363.87,310.13 358.6,297.27 353.11,284.08 347.41,270.55 341.48,256.66 335.32,242.39 328.93,227.72 322.3,212.62 315.44,197.07 308.33,181.05 301.04,164.51 293.44,147.43 285.6,129.78 277.49,111.5 269.13,92.56 260.51,72.9 251.63,52.48" stroke="#88DD00" stroke-width="1"/>
<polyline points="513.14,799.91 512.59,794.92 512.04,789.89 511.48,784.81 510.91,779.68 510.34,774.5 509.75,769.26 509.17,763.98 508.6,758.63 508.02,753.24 507.44,747.78 506.86,742.27 506.28,736.7 505.73,731.07 505.16,725.38 504.59,719.62 504.01,713.8 503.43,707.92 502.84,701.97 502.25,695.94 501.65,689.85 501.04,683.69 500.43,677.45 499.8,671.14 499.16,664.75 498.5,658.28 497.83,651.73 497.14,645.09 496.43,638.37 495.7,631.56 494.95,624.66 494.17,617.67 493.41,610.59 492.58,603.4 491.72,596.12 490.82,588.73 489.89,581.24 488.92,573.63 487.9,565.92 486.84,558.08 485.73,550.13 484.56,542.06 483.33,533.86 482.05,525.52 480.69,517.05 479.26,508.44 477.76,499.69 476.17,490.79 474.49,481.73 472.72,472.51 470.83,463.13 468.87,453.57 466.79,443.83 464.56,433.91 462.21,423.8 459.73,413.49 457.1,402.96 454.31,392.23 451.36,381.26 448.23,370.06 444.92,358.61 441.42,346.91 437.71,334.93 433.79,322.68 429.64,310.13 425.26,297.27 420.63,284.08 415.74,270.55 410.59,256.66 405.17,242.39 399.45,227.72 393.45,212.62 387.19,197.07 380.59,181.05 373.68,164.51 366.45,147.43 358.89,129.78 351,111.5 342.76,92.56 334.18,72.9 325.25,52.48" stroke="#88DD00" stroke-width="1"/>
<polyline points="545.16,799.91 544.76,794.92 544.36,789.89 543.97,784.81 543.58,779.68 543.2,774.5 542.81,769.26 542.43,763.98 542.05,758.63 541.66,753.24 541.28,747.78 540.92,742.27 540.53,736.7 540.15,731.07 539.76,725.38 539.37,719.62 539,713.8 538.63,707.92 538.27,701.97 537.92,695.94 537.56,689.85 537.2,683.69 536.84,677.45 536.48,671.14 536.11,664.75 535.74,658.28 535.37,651.73 534.98,645.09 534.59,638.37 534.19,631.56 533.82,624.66 533.4,617.67 532.98,610.59 532.53,603.4 532.08,596.12 531.6,588.73 531.1,581.24 530.59,573.63 530.04,565.92 529.47,558.08 528.87,550.13 528.24,542.06 527.57,533.86 526.87,525.52 526.12,517.05 525.32,508.44 524.48,499.69 523.58,490.79 522.62,481.73 521.6,472.51 520.51,463.13 519.35,453.57 518.1,443.83 516.76,433.91 515.33,423.8 513.8,413.49 512.15,402.96 510.38,392.23 508.48,381.26 506.43,370.06 504.26,358.61 501.9,346.91 499.38,334.93 496.67,322.68 493.76,310.13 490.63,297.27 487.27,284.08 483.67,270.55 479.8,256.66 475.65,242.39 471.2,227.72 466.42,212.62 461.31,197.07 455.84,181.05 450.04,164.51 443.83,147.43 437.21,129.78 430.18,111.5 422.71,92.56 414.79,72.9 406.41,52.48" stroke="#88DD00" stroke-width="1"/>
<polyline points="577.15,799.91 576.92,794.92 576.69,789.89 576.47,784.81 576.26,779.68 576.06,774.5 575.85,769.26 575.66,763.98 575.46,758.63 575.27,753.24 575.08,747.78 574.88,742.27 574.73,736.7 574.55,731.07 574.37,725.38 574.2,719.62 574.03,713.8 573.86,707.92 573.68,701.97 573.51,695.94 573.34,689.85 573.17,683.69 572.99,677.45 572.81,671.14 572.63,664.75 572.44,658.28 572.24,651.73 572.08,645.09 571.91,638.37 571.74,631.56 571.57,624.66 571.45,617.67 571.29,610.59 571.13,603.4 570.97,596.12 570.8,588.73 570.63,581.24 570.45,573.63 570.26,565.92 570.06,558.08 569.86,550.13 569.64,542.06 569.4,533.86 569.15,525.52 568.88,517.05 568.59,508.44 568.28,499.69 567.94,490.79 567.57,481.73 567.18,472.51 566.74,463.13 566.27,453.57 565.75,443.83 565.13,433.91 564.5,423.8 563.81,413.49 563.06,402.96 562.24,392.23 561.33,381.26 560.34,370.06 559.25,358.61 558.12,346.91 556.8,334.93 555.35,322.68 553.75,310.13 551.98,297.27 550.09,284.08 547.99,270.55 545.69,256.66 543.17,242.39 540.41,227.72 537.38,212.62 534.07,197.07 530.43,181.05 526.45,164.51 522.07,147.43 517.27,129.78 512.05,111.5 506.33,92.56 500.1,72.9 493.32,52.48" stroke="#88DD00" stroke-width="1"/>
<polyline points="609.31,799.91 609.22,794.92 609.13,789.89 609.05,784.81 608.98,779.68 608.92,774.5 608.86,769.26 608.8,763.98 608.76,758.63 608.71,753.24 608.67,747.78 608.64,742.27 608.63,736.7 608.61,731.07 608.6,725.38 608.59,719.62 608.58,713.8 608.58,707.92 608.59,701.97 608.6,695.94 608.61,689.85 608.62,683.69 608.64,677.45 608.67,671.14 608.69,664.75 608.72,658.28 608.75,651.73 608.78,645.09 608.81,638.37 608.84,631.56 608.87,624.66 608.9,617.67 608.93,610.59 608.99,603.4 609.02,596.12 609.05,588.73 609.07,581.24 609.12,573.63 609.18,565.92 609.25,558.08 609.32,550.13 609.39,542.06 609.47,533.86 609.55,525.52 609.63,517.05 609.72,508.44 609.8,499.69 609.88,490.79 609.96,481.73 610.03,472.51 610.09,463.13 610.12,453.57 610.15,443.83 610.18,433.91 610.19,423.8 610.17,413.49 610.14,402.96 610.08,392.23 609.99,381.26 609.86,370.06 609.69,358.61 609.48,346.91 609.21,334.93 608.88,322.68 608.49,310.13 608.02,297.27 607.46,284.08 606.8,270.55 606.03,256.66 605.18,242.39 604.15,227.72 602.83,212.62 601.51,197.07 599.92,181.05 598.09,164.51 596,147.43 593.6,129.78 590.87,111.5 587.75,92.56 584.18,72.9 580.17,52.48" stroke="#88DD00" stroke-width="1"/>
<polyline points="205.63,774.5 362.16,297.27" stroke="#88DD00" stroke-width="1.3" stroke-dasharray="3.5,4.5"/>
<polyline points="275.73,774.5 425.85,297.27" stroke="#88DD00" stroke-width="1.3" stroke-dasharray="3.5,4.5"/>
<polyline points="319.2,774.5 465.2,297.27" stroke="#88DD00" stroke-width="1.3" stroke-dasharray="3.5,4.5"/>
<polyline points="376.74,774.5 517.14,297.27" stroke="#88DD00" stroke-width="1.3" stroke-dasharray="3.5,4.5"/>
<polyline points="432.57,774.5 567.36,297.27" stroke="#88DD00" stroke-width="1.3" stroke-dasharray="3.5,4.5"/>
<polyline points="483.02,774.5 612.61,297.27" stroke="#88DD00" stroke-width="1.3" stroke-dasharray="3.5,4.5"/>
<polyline points="549.59,774.5 672.16,297.27" stroke="#88DD00" stroke-width="1.3" stroke-dasharray="3.5,4.5"/>
</g>
<polyline points="56.5,800.5 56.5,52.5 629.5,52.5" fill="none" stroke="#4a3a20" stroke-width="1"/>
<polyline points="629.5,52.5 629.5,297.34" fill="none" stroke="#333" stroke-width="1"/>
<polyline points="629.5,297.34 758.8,529.51" fill="none" stroke="#000" stroke-width="1.4"/>
<polyline points="758.8,529.51 758.8,800.5" fill="none" stroke="#333" stroke-width="1"/>
<line x1="56.5" y1="800.5" x2="759.3" y2="800.5" stroke="#4a3a20" stroke-width="1"/>
<circle cx="59.6" cy="21.5" r="4" fill="#000"/>
<text x="0" y="0" font-size="22.75" fill="#000" text-anchor="start" font-weight="normal" transform="translate(69.25 29.6) scale(0.9070 1.0500)">NZNF</text>
<text x="0" y="0" font-size="14.57" fill="#000" stroke="#000" stroke-width="0.25" text-anchor="start" font-weight="normal" transform="translate(129.6 26.9) scale(0.8790 1.0000)">-39.205°,174.223° (14,51)</text>
<text x="0" y="0" font-size="23" fill="#000" text-anchor="start" font-weight="normal" transform="translate(294.5 29.7) scale(0.8940 1.0300)">Valid 1000 NZDT</text>
<text x="0" y="0" font-size="14.57" fill="#000" stroke="#000" stroke-width="0.25" text-anchor="start" font-weight="normal" transform="translate(457.1 27.7) scale(1.0740 1.0000)">(2100Z)</text>
<text x="0" y="0" font-size="22.9" fill="#000" text-anchor="start" font-weight="normal" transform="translate(517 29.6) scale(0.8990 1.0300)">SUN 28 Sep 2025</text>
<text x="0" y="0" font-size="14.8" fill="#000" stroke="#000" stroke-width="0.25" text-anchor="start" font-weight="normal" transform="translate(688 27.4) scale(1.0400 1.0000)">[9hrFcst@1557z]</text>
<text x="0" y="0" font-size="13.6" fill="#B4105A" stroke="#B4105A" stroke-width="0.25" text-anchor="start" font-weight="normal" transform="translate(285.8 48.7) scale(0.9110 1.0000)">Plcl=985 Tlcl[C]=12 Shox=3 Pwat[cm]=1 Cape[J]= 12</text>
<text x="0" y="0" font-size="16.9" fill="#000" stroke="#000" stroke-width="0.35" text-anchor="end" font-weight="normal" transform="translate(45.3 58.38) scale(1.0300 1.0000)">250</text>
<text x="0" y="0" font-size="16.9" fill="#000" stroke="#000" stroke-width="0.35" text-anchor="end" font-weight="normal" transform="translate(45.3 153.33) scale(1.0300 1.0000)">300</text>
<text x="0" y="0" font-size="16.9" fill="#000" stroke="#000" stroke-width="0.35" text-anchor="end" font-weight="normal" transform="translate(45.3 303.17) scale(1.0300 1.0000)">400</text>
<text x="0" y="0" font-size="16.9" fill="#000" stroke="#000" stroke-width="0.35" text-anchor="end" font-weight="normal" transform="translate(45.3 419.39) scale(1.0300 1.0000)">500</text>
<text x="0" y="0" font-size="16.9" fill="#000" stroke="#000" stroke-width="0.35" text-anchor="end" font-weight="normal" transform="translate(45.3 594.63) scale(1.0300 1.0000)">700</text>
<text x="0" y="0" font-size="16.9" fill="#000" stroke="#000" stroke-width="0.35" text-anchor="end" font-weight="normal" transform="translate(45.3 695.75) scale(1.0300 1.0000)">850</text>
<text x="0" y="0" font-size="16.9" fill="#000" stroke="#000" stroke-width="0.35" text-anchor="end" font-weight="normal" transform="translate(45.3 780.4) scale(1.0300 1.0000)">1000</text>
<text x="0" y="0" font-size="15.3" fill="#000" stroke="#000" stroke-width="0.25" text-anchor="start" font-weight="normal" transform="translate(14.4 469.82) rotate(-90)">P (hPa)</text>
<line x1="86.7" y1="800.5" x2="86.7" y2="809" stroke="#000" stroke-width="1"/>
<text x="0" y="0" font-size="16.1" fill="#000" stroke="#000" stroke-width="0.35" text-anchor="middle" font-weight="normal" transform="translate(86 833.7) scale(1.0400 1.0000)">-30</text>
<line x1="168.85" y1="800.5" x2="168.85" y2="809" stroke="#000" stroke-width="1"/>
<text x="0" y="0" font-size="16.1" fill="#000" stroke="#000" stroke-width="0.35" text-anchor="middle" font-weight="normal" transform="translate(168.15 833.7) scale(1.0400 1.0000)">-20</text>
<line x1="251" y1="800.5" x2="251" y2="809" stroke="#000" stroke-width="1"/>
<text x="0" y="0" font-size="16.1" fill="#000" stroke="#000" stroke-width="0.35" text-anchor="middle" font-weight="normal" transform="translate(250.3 833.7) scale(1.0400 1.0000)">-10</text>
<line x1="333.16" y1="800.5" x2="333.16" y2="809" stroke="#000" stroke-width="1"/>
<text x="0" y="0" font-size="16.1" fill="#000" stroke="#000" stroke-width="0.35" text-anchor="middle" font-weight="normal" transform="translate(332.46 833.7) scale(1.0400 1.0000)">0</text>
<line x1="415.31" y1="800.5" x2="415.31" y2="809" stroke="#000" stroke-width="1"/>
<text x="0" y="0" font-size="16.1" fill="#000" stroke="#000" stroke-width="0.35" text-anchor="middle" font-weight="normal" transform="translate(414.61 833.7) scale(1.0400 1.0000)">10</text>
<line x1="497.46" y1="800.5" x2="497.46" y2="809" stroke="#000" stroke-width="1"/>
<text x="0" y="0" font-size="16.1" fill="#000" stroke="#000" stroke-width="0.35" text-anchor="middle" font-weight="normal" transform="translate(496.76 833.7) scale(1.0400 1.0000)">20</text>
<line x1="579.61" y1="800.5" x2="579.61" y2="809" stroke="#000" stroke-width="1"/>
<text x="0" y="0" font-size="16.1" fill="#000" stroke="#000" stroke-width="0.35" text-anchor="middle" font-weight="normal" transform="translate(578.91 833.7) scale(1.0400 1.0000)">30</text>
<line x1="661.76" y1="800.5" x2="661.76" y2="809" stroke="#000" stroke-width="1"/>
<text x="0" y="0" font-size="16.1" fill="#000" stroke="#000" stroke-width="0.35" text-anchor="middle" font-weight="normal" transform="translate(661.06 833.7) scale(1.0400 1.0000)">40</text>
<text x="0" y="0" font-size="16.7" fill="#000" stroke="#000" stroke-width="0.25" text-anchor="start" font-weight="normal" transform="translate(374.59 854.4) scale(0.9200 1.0000)">Temperature (C)</text>
<text x="0" y="0" font-size="12.2" fill="#1DB31D" stroke="#1DB31D" stroke-width="0.25" text-anchor="middle" font-weight="normal" transform="translate(56.4 49.3)">0.0</text>
<text x="0" y="0" font-size="12.2" fill="#000" stroke="#000" stroke-width="0.25" text-anchor="middle" font-weight="normal" transform="translate(56.4 64.4)">0.0</text>
<text x="0" y="0" font-size="12.2" fill="#1DB31D" stroke="#1DB31D" stroke-width="0.25" text-anchor="middle" font-weight="normal" transform="translate(56.4 799.4)">0.0</text>
<text x="0" y="0" font-size="12.2" fill="#000" stroke="#000" stroke-width="0.25" text-anchor="middle" font-weight="normal" transform="translate(56.4 812.8)">0.0</text>
<text x="0" y="0" font-size="12.2" fill="#1DB31D" stroke="#1DB31D" stroke-width="0.25" text-anchor="middle" font-weight="normal" transform="translate(86.95 49.3)">0.5</text>
<text x="0" y="0" font-size="12.2" fill="#000" stroke="#000" stroke-width="0.25" text-anchor="middle" font-weight="normal" transform="translate(86.95 64.4)">0.5</text>
<text x="0" y="0" font-size="12.2" fill="#1DB31D" stroke="#1DB31D" stroke-width="0.25" text-anchor="middle" font-weight="normal" transform="translate(86.95 799.4)">0.5</text>
<text x="0" y="0" font-size="12.2" fill="#000" stroke="#000" stroke-width="0.25" text-anchor="middle" font-weight="normal" transform="translate(86.95 812.8)">0.5</text>
<text x="0" y="0" font-size="12.2" fill="#1DB31D" stroke="#1DB31D" stroke-width="0.25" text-anchor="middle" font-weight="normal" transform="translate(117.05 49.3)">1.0</text>
<text x="0" y="0" font-size="12.2" fill="#000" stroke="#000" stroke-width="0.25" text-anchor="middle" font-weight="normal" transform="translate(117.05 64.4)">1.0</text>
<text x="0" y="0" font-size="12.2" fill="#1DB31D" stroke="#1DB31D" stroke-width="0.25" text-anchor="middle" font-weight="normal" transform="translate(117.05 799.4)">1.0</text>
<text x="0" y="0" font-size="12.2" fill="#000" stroke="#000" stroke-width="0.25" text-anchor="middle" font-weight="normal" transform="translate(117.05 812.8)">1.0</text>
<text x="0" y="0" font-size="13.2" fill="#1DB31D" stroke="#1DB31D" stroke-width="0.25" text-anchor="start" font-weight="normal" transform="translate(132.67 798.6) scale(0.9450 1.0000)">CloudWater (g/Kg)</text>
<text x="0" y="0" font-size="12.8" fill="#000" stroke="#000" stroke-width="0.25" text-anchor="start" font-weight="normal" transform="translate(132.69 813) scale(0.9650 1.0000)">Grid-Scale Cloudiness</text>
<text x="65.4" y="147.6" font-size="15" fill="#FFB000" text-anchor="middle" transform="rotate(57 65.4 142.4)">10</text>
<text x="65.1" y="293.8" font-size="15" fill="#FFB000" text-anchor="middle" transform="rotate(57 65.1 288.6)">0</text>
<text x="66.3" y="438" font-size="15" fill="#FFB000" text-anchor="middle" transform="rotate(57 66.3 432.8)">-10</text>
<text x="65.1" y="578.1" font-size="15" fill="#FFB000" text-anchor="middle" transform="rotate(57 65.1 572.9)">-20</text>
<text x="64.4" y="722.3" font-size="15" fill="#FFB000" text-anchor="middle" transform="rotate(57 64.4 717.1)">-30</text>
<text x="0" y="5.9" font-size="17" fill="#FFB000" stroke="#FFB000" stroke-width="0.2" text-anchor="middle" transform="translate(639.5 200.7) rotate(-50) scale(1 1.1)">0</text>
<text x="0" y="5.9" font-size="17" fill="#FFB000" stroke="#FFB000" stroke-width="0.2" text-anchor="middle" transform="translate(660.7 320.5) rotate(-50) scale(1 1.1)">10</text>
<text x="0" y="5.9" font-size="17" fill="#FFB000" stroke="#FFB000" stroke-width="0.2" text-anchor="middle" transform="translate(702.6 398.4) rotate(-50) scale(1 1.1)">20</text>
<text x="0" y="5.9" font-size="17" fill="#FFB000" stroke="#FFB000" stroke-width="0.2" text-anchor="middle" transform="translate(746.6 475.9) rotate(-50) scale(1 1.1)">30</text>
<text x="201.6" y="790.8" font-size="13" fill="#88DD00" stroke="#88DD00" stroke-width="0.3" text-anchor="middle" transform="rotate(-70 201.6 786.2)">1</text>
<text x="272.2" y="790.8" font-size="13" fill="#88DD00" stroke="#88DD00" stroke-width="0.3" text-anchor="middle" transform="rotate(-70 272.2 786.2)">2</text>
<text x="315.5" y="790.8" font-size="13" fill="#88DD00" stroke="#88DD00" stroke-width="0.3" text-anchor="middle" transform="rotate(-70 315.5 786.2)">3</text>
<text x="373.3" y="790.8" font-size="13" fill="#88DD00" stroke="#88DD00" stroke-width="0.3" text-anchor="middle" transform="rotate(-70 373.3 786.2)">5</text>
<text x="427.6" y="790.8" font-size="13" fill="#88DD00" stroke="#88DD00" stroke-width="0.3" text-anchor="middle" transform="rotate(-70 427.6 786.2)">8</text>
<text x="479.4" y="790.8" font-size="13" fill="#88DD00" stroke="#88DD00" stroke-width="0.3" text-anchor="middle" transform="rotate(-70 479.4 786.2)">12</text>
<text x="545.4" y="790.8" font-size="13" fill="#88DD00" stroke="#88DD00" stroke-width="0.3" text-anchor="middle" transform="rotate(-70 545.4 786.2)">20</text>
<line x1="57" y1="75" x2="57" y2="732" stroke="#1DB31D" stroke-width="2"/>
<polyline points="117.6,75 117.6,148 57,184" fill="none" stroke="#000" stroke-width="2" stroke-linejoin="miter"/>
<polyline points="57,731.8 117.6,738.8 117.6,765.9 57,770.6" fill="none" stroke="#000" stroke-width="2" stroke-linejoin="miter"/>
<polyline points="57,733 78.2,738.8 84.1,745.9 80,751.8 68.8,757.6 78.8,765.3 57,769.4" fill="none" stroke="#1DB31D" stroke-width="2" stroke-linejoin="round"/>
<path d="M284.7 74.6C285.15 76.67 288.42 91.4 289.2 95.3C289.98 99.2 291.99 109.79 292.5 113.6C293.01 117.41 293.98 130.01 294.3 133.4C294.62 136.79 295.46 143.83 295.7 147.5C295.94 151.17 296.58 165.97 296.7 170.1C296.82 174.23 296.5 184.11 296.9 188.8C297.3 193.49 300.7 217 300.7 217C300.7 217 307.12 244.4 309.4 252.4C311.68 260.4 320.79 288.3 323.5 297C326.21 305.7 334.26 332.1 336.5 339.4C338.74 346.7 343.31 362.47 345.9 370C348.49 377.53 359.11 406 362.4 414.7C365.69 423.4 376.04 450.47 378.8 457C381.56 463.53 387.7 475.35 390 480C392.3 484.65 398.86 497.62 401.8 503.5C404.74 509.38 415.99 532.15 419.4 538.8C422.81 545.45 433.55 565.29 435.9 570C438.25 574.71 441.7 581.84 442.9 585.9C444.1 589.96 447.72 606.54 447.9 610.6C448.08 614.66 445.73 622.97 444.7 626.5C443.67 630.03 438.22 642.2 437.6 645.9C436.98 649.6 438.11 659.59 438.5 663.5C438.89 667.41 441.35 680.16 441.5 685C441.65 689.84 440.67 707.23 440 711.9C439.33 716.57 435.08 728.91 434.8 731.7C434.52 734.49 436.54 737.32 437.2 739.8C437.86 742.28 440.52 753.43 441.4 756.5C442.28 759.57 445.54 769.1 446 770.5" fill="none" stroke="#FF0000" stroke-width="3" stroke-linejoin="round" stroke-linecap="round"/>
<line x1="438.9" y1="718.8" x2="448" y2="770.3" stroke="#800080" stroke-width="2" stroke-dasharray="6,4"/>
<rect x="446.8" y="767.2" width="7" height="7" rx="1.5" fill="#FF0000"/>
<path d="M245.2 74.8C245.62 76.71 248.58 90.16 249.4 93.9C250.22 97.64 252.86 108.53 253.4 112.2C253.94 115.87 254.61 127.07 254.8 130.6C254.99 134.13 255.34 144.39 255.3 147.5C255.26 150.61 254.57 159.45 254.4 161.7C254.23 163.95 253.82 167.76 253.6 170C253.38 172.24 252.2 184.1 252.2 184.1C252.2 184.1 222.4 247.6 222.4 247.6C222.4 247.6 221.9 286.5 221.9 286.5C221.9 286.5 229.1 321.65 230.6 330C232.1 338.35 236.08 363.65 236.9 370C237.72 376.35 238.54 386.44 238.8 393.5C239.06 400.56 239.43 428.83 239.5 440.6C239.57 452.37 239.8 502.02 239.5 511.2C239.2 520.38 237.39 528.87 236.5 532.4C235.61 535.93 231.84 543.62 230.6 546.5C229.36 549.38 225.81 558.32 224.1 561.2C222.39 564.08 216.79 571.54 213.5 575.3C210.21 579.06 191.2 598.8 191.2 598.8C191.2 598.8 184.1 610.6 184.1 610.6C184.1 610.6 187.2 619.08 191.2 621.2C195.2 623.32 218.1 630.27 224.1 631.8C230.1 633.33 242.49 634.86 251.2 636.5C259.91 638.14 300.73 645.97 311.2 648.2C321.67 650.43 349.26 657.09 355.9 658.8C362.54 660.51 374.01 663.77 377.6 665.3C381.19 666.83 389.47 672.1 391.8 674.1C394.13 676.1 399.57 683.2 400.9 685.3C402.23 687.4 403.98 692.72 405.1 695.1C406.22 697.48 410.42 706.73 412.1 709.1C413.78 711.47 419.74 716.57 421.9 718.8C424.06 721.03 432.17 729.3 433.7 731.4C435.23 733.5 436.43 737.29 437.2 739.8C437.97 742.31 440.7 753.48 441.4 756.5C442.1 759.52 443.92 768.65 444.2 770" fill="none" stroke="#0066FF" stroke-width="3" stroke-linejoin="round" stroke-linecap="round"/>
<circle cx="444.2" cy="771" r="3.3" fill="#0066FF"/>
<line x1="713.5" y1="52" x2="713.5" y2="782" stroke="#555" stroke-width="1"/>
<path d="M811.7 75.9C810.82 78.28 805.54 92.09 802.9 99.7C800.26 107.31 788.1 142.58 785.3 152C782.5 161.42 776.57 186.36 774.9 193.9C773.23 201.44 769.99 218.61 768.6 227.4C767.21 236.19 762.68 269.25 761 281.8C759.32 294.35 753.45 339.08 751.8 352.9C750.15 366.72 745.59 409.87 744.5 420C743.41 430.13 741.42 446.36 740.9 454.2C740.38 462.04 739.63 487.35 739.3 498.4C738.97 509.45 737.76 555.54 737.6 564.7C737.44 573.86 737.39 585.38 737.7 590C738.01 594.62 739.82 606.71 740.7 610.9C741.58 615.09 745.64 627.71 746.5 631.9C747.36 636.09 749.18 648.62 749.3 652.8C749.42 656.98 748.21 669.05 747.7 673.7C747.19 678.35 745.02 694.65 744.2 699.3C743.38 703.95 740.78 716.25 739.5 720.2C738.22 724.15 732.51 735.31 731.4 738.8C730.29 742.29 729.45 751.96 728.4 755.1C727.35 758.24 721.65 768.69 720.9 770.2" fill="none" stroke="#FF0000" stroke-width="1.2" stroke-linejoin="round"/>
<text x="0" y="0" font-size="12.6" fill="#FF0000" stroke="#FF0000" stroke-width="0.25" text-anchor="middle" font-weight="bold" transform="translate(713 65.5)">0</text>
<text x="0" y="0" font-size="12.6" fill="#FF0000" stroke="#FF0000" stroke-width="0.25" text-anchor="middle" font-weight="bold" transform="translate(713 799.1)">0</text>
<text x="0" y="0" font-size="12.6" fill="#FF0000" stroke="#FF0000" stroke-width="0.25" text-anchor="middle" font-weight="bold" transform="translate(758.5 65.5)">40</text>
<text x="0" y="0" font-size="12.6" fill="#FF0000" stroke="#FF0000" stroke-width="0.25" text-anchor="middle" font-weight="bold" transform="translate(758.5 799.1)">40</text>
<text x="0" y="0" font-size="12.6" fill="#FF0000" stroke="#FF0000" stroke-width="0.25" text-anchor="middle" font-weight="bold" transform="translate(804.3 65.5)">80</text>
<text x="0" y="0" font-size="12.6" fill="#FF0000" stroke="#FF0000" stroke-width="0.25" text-anchor="middle" font-weight="bold" transform="translate(804.3 799.1)">80</text>
<text x="0" y="0" font-size="12.6" fill="#FF0000" stroke="#FF0000" stroke-width="0.25" text-anchor="middle" font-weight="bold" transform="translate(849.8 65.5)">120</text>
<text x="0" y="0" font-size="12.6" fill="#FF0000" stroke="#FF0000" stroke-width="0.25" text-anchor="middle" font-weight="bold" transform="translate(849.8 799.1)">120</text>
<text x="0" y="0" font-size="13" fill="#FF0000" stroke="#FF0000" stroke-width="0.25" text-anchor="middle" font-weight="normal" transform="translate(760 814) scale(0.9600 1.0000)">Speed (kt)</text>
<path d="M713.5 75.5L680.52 89.16M687.45 86.29L679.43 80.14M690.22 85.14L682.21 79M692.99 84L684.98 77.85M695.76 82.85L691.76 79.77" fill="none" stroke="#000" stroke-width="1.25"/>
<path d="M680.52 89.16L677.14 81.66L684.67 87.44Z" fill="#000" stroke="#000" stroke-width="0.8" stroke-linejoin="round"/>
<path d="M713.5 114.9L680.24 127.87M687.23 125.14L679.34 118.83M690.02 124.05L682.14 117.74M692.82 122.96L688.88 119.81" fill="none" stroke="#000" stroke-width="1.25"/>
<path d="M680.24 127.87L677.02 120.29L684.43 126.23Z" fill="#000" stroke="#000" stroke-width="0.8" stroke-linejoin="round"/>
<path d="M713.5 150.9L679.95 163.11M687 160.54L679.26 154.05M689.82 159.52L685.95 156.27" fill="none" stroke="#000" stroke-width="1.25"/>
<path d="M679.95 163.11L676.9 155.46L684.18 161.57Z" fill="#000" stroke="#000" stroke-width="0.8" stroke-linejoin="round"/>
<path d="M713.5 184.7L679.36 195.14M686.53 192.94L682.84 189.5" fill="none" stroke="#000" stroke-width="1.25"/>
<path d="M679.36 195.14L676.72 187.34L683.66 193.82Z" fill="#000" stroke="#000" stroke-width="0.8" stroke-linejoin="round"/>
<path d="M713.5 215.8L678.86 224.44" fill="none" stroke="#000" stroke-width="1.25"/>
<path d="M678.86 224.44L676.63 216.51L683.23 223.35Z" fill="#000" stroke="#000" stroke-width="0.8" stroke-linejoin="round"/>
<path d="M713.5 248.2L683.04 254.95M683.04 254.95L676.22 247.51M685.97 254.3L679.14 246.86M688.9 253.65L682.07 246.21M691.83 253L685 245.56M694.76 252.36L691.34 248.63" fill="none" stroke="#000" stroke-width="1.25"/>
<path d="M713.5 287.4L683.03 294.1M683.03 294.1L676.22 286.64M685.96 293.46L679.15 286M688.89 292.81L682.08 285.35M691.82 292.17L685.01 284.71" fill="none" stroke="#000" stroke-width="1.25"/>
<path d="M713.5 331.2L682.98 337.69M682.98 337.69L676.22 330.18M685.92 337.06L679.16 329.56M688.85 336.44L682.09 328.93M691.79 335.82L688.41 332.06" fill="none" stroke="#000" stroke-width="1.25"/>
<path d="M713.5 376.3L682.98 382.79M682.98 382.79L676.22 375.28M685.92 382.16L679.16 374.66M688.85 381.54L685.47 377.79" fill="none" stroke="#000" stroke-width="1.25"/>
<path d="M713.5 420.9L682.98 427.39M682.98 427.39L676.22 419.88M685.92 426.76L679.16 419.26M688.85 426.14L685.47 422.39" fill="none" stroke="#000" stroke-width="1.25"/>
<path d="M713.5 460.7L683.1 467.72M683.1 467.72L676.21 460.33M686.02 467.04L679.13 459.66M688.95 466.37L685.5 462.68" fill="none" stroke="#000" stroke-width="1.25"/>
<path d="M713.5 494.1L683.1 501.12M683.1 501.12L676.21 493.73M686.02 500.44L679.13 493.06M688.95 499.77L685.5 496.08" fill="none" stroke="#000" stroke-width="1.25"/>
<path d="M713.5 522L683.23 529.55M683.23 529.55L676.21 522.28M686.14 528.82L679.12 521.56M689.05 528.1L685.54 524.46" fill="none" stroke="#000" stroke-width="1.25"/>
<path d="M713.5 544.2L683.51 552.8M683.51 552.8L676.24 545.78M686.39 551.97L679.13 544.96" fill="none" stroke="#000" stroke-width="1.25"/>
<path d="M713.5 561.2L683.66 570.32M683.66 570.32L676.28 563.43M686.53 569.44L679.15 562.56" fill="none" stroke="#000" stroke-width="1.25"/>
<path d="M713.5 575.6L683.66 584.72M683.66 584.72L676.28 577.83M686.53 583.84L679.15 576.96" fill="none" stroke="#000" stroke-width="1.25"/>
<path d="M713.5 588.1L683.51 596.7M683.51 596.7L676.24 589.68M686.39 595.87L679.13 588.86" fill="none" stroke="#000" stroke-width="1.25"/>
<path d="M713.5 600.3L683.36 608.38M683.36 608.38L676.22 601.23M686.26 607.6L679.12 600.46M689.16 606.82L685.59 603.25" fill="none" stroke="#000" stroke-width="1.25"/>
<path d="M713.5 610.8L682.93 617.02M682.93 617.02L676.23 609.46M685.87 616.42L679.17 608.86M688.81 615.82L685.46 612.04" fill="none" stroke="#000" stroke-width="1.25"/>
<path d="M713.5 621.3L682.58 625.48M682.58 625.48L676.4 617.49M685.55 625.08L679.38 617.09M688.53 624.68L685.44 620.68" fill="none" stroke="#000" stroke-width="1.25"/>
<path d="M713.5 631.8L682.3 631.8M682.3 631.8L677.25 623.05M685.3 631.8L680.25 623.05M688.3 631.8L685.77 627.43" fill="none" stroke="#000" stroke-width="1.25"/>
<path d="M713.5 641.2L682.42 638.48M682.42 638.48L678.15 629.33M685.41 638.74L681.14 629.59M688.4 639L686.26 634.43" fill="none" stroke="#000" stroke-width="1.25"/>
<path d="M713.5 649.2L682.77 643.78M682.77 643.78L679.32 634.29M685.73 644.3L682.27 634.81M688.68 644.82L685.23 635.33" fill="none" stroke="#000" stroke-width="1.25"/>
<path d="M713.5 657.6L683.23 650.05M683.23 650.05L680.44 640.34M686.14 650.78L683.35 641.07M689.05 651.5L686.26 641.79" fill="none" stroke="#000" stroke-width="1.25"/>
<path d="M713.5 666.5L683.83 656.86M683.83 656.86L681.73 646.98M686.68 657.79L684.58 647.91M689.53 658.71L687.43 648.83" fill="none" stroke="#000" stroke-width="1.25"/>
<path d="M713.5 673.8L684.57 662.11M684.57 662.11L683.17 652.11M687.35 663.24L685.95 653.23M690.13 664.36L688.73 654.36" fill="none" stroke="#000" stroke-width="1.25"/>
<path d="M713.5 682.2L685.46 668.52M685.46 668.52L684.75 658.45M688.15 669.84L687.45 659.76M690.85 671.15L690.15 661.08" fill="none" stroke="#000" stroke-width="1.25"/>
<path d="M713.5 690L686.48 674.4M686.48 674.4L686.48 664.3M689.08 675.9L689.08 665.8M691.68 677.4L691.68 672.35" fill="none" stroke="#000" stroke-width="1.25"/>
<path d="M713.5 696.8L687.63 679.35M687.63 679.35L688.34 669.28M690.12 681.03L690.83 670.96M692.61 682.71L692.96 677.67" fill="none" stroke="#000" stroke-width="1.25"/>
<path d="M713.5 704L688.91 684.79M688.91 684.79L690.32 674.79M691.28 686.64L692.68 676.64M693.64 688.49L694.34 683.48" fill="none" stroke="#000" stroke-width="1.25"/>
<path d="M713.5 711.5L690.31 690.62M690.31 690.62L692.41 680.74M692.54 692.63L694.64 682.75" fill="none" stroke="#000" stroke-width="1.25"/>
<path d="M713.5 718.5L691.83 696.06M691.83 696.06L694.61 686.35M693.91 698.21L696.69 688.51" fill="none" stroke="#000" stroke-width="1.25"/>
<path d="M713.5 724.9L694.29 700.31M694.29 700.31L698.07 690.95M696.14 702.68L698.03 698" fill="none" stroke="#000" stroke-width="1.25"/>
<path d="M713.5 729.5L696.51 703.33M696.51 703.33L701.09 694.33M698.14 705.85L700.43 701.35" fill="none" stroke="#000" stroke-width="1.25"/>
<path d="M713.5 735L698.85 707.45M698.85 707.45L704.2 698.89M700.26 710.1L702.94 705.82" fill="none" stroke="#000" stroke-width="1.25"/>
<path d="M713.5 741L701.31 712.28M701.31 712.28L707.39 704.21M702.48 715.04L705.52 711.01" fill="none" stroke="#000" stroke-width="1.25"/>
<path d="M713.5 747L703.34 717.5M703.34 717.5L709.97 709.88M704.32 720.34L707.63 716.53" fill="none" stroke="#000" stroke-width="1.25"/>
<path d="M713.5 753L705.42 722.86M705.42 722.86L712.57 715.72M706.2 725.76L709.77 722.19" fill="none" stroke="#000" stroke-width="1.25"/>
<path d="M713.5 759L707.01 728.48M707.01 728.48L714.52 721.72M707.64 731.42L711.39 728.04" fill="none" stroke="#000" stroke-width="1.25"/>
<path d="M713.5 765L708.62 734.18M708.62 734.18L716.47 727.83" fill="none" stroke="#000" stroke-width="1.25"/>
<path d="M713.5 770L709.7 739.03M709.7 739.03L717.76 732.95" fill="none" stroke="#000" stroke-width="1.25"/>
<line x1="804.2" y1="51" x2="804.2" y2="800.8" stroke="#000" stroke-width="2"/>
<line x1="804" y1="100.8" x2="814" y2="100.8" stroke="#222" stroke-width="1.1"/>
<text x="0" y="0" font-size="17.4" fill="#000" stroke="#000" stroke-width="0.35" text-anchor="start" font-weight="normal" transform="translate(824.12 107.6) scale(0.9700 1.0000)">32</text>
<line x1="804" y1="148" x2="814" y2="148" stroke="#222" stroke-width="1.1"/>
<text x="0" y="0" font-size="17.4" fill="#000" stroke="#000" stroke-width="0.35" text-anchor="start" font-weight="normal" transform="translate(824.12 154.8) scale(0.9700 1.0000)">30</text>
<line x1="804" y1="195" x2="814" y2="195" stroke="#222" stroke-width="1.1"/>
<text x="0" y="0" font-size="17.4" fill="#000" stroke="#000" stroke-width="0.35" text-anchor="start" font-weight="normal" transform="translate(824.12 201.8) scale(0.9700 1.0000)">28</text>
<line x1="804" y1="242" x2="814" y2="242" stroke="#222" stroke-width="1.1"/>
<text x="0" y="0" font-size="17.4" fill="#000" stroke="#000" stroke-width="0.35" text-anchor="start" font-weight="normal" transform="translate(824.12 248.8) scale(0.9700 1.0000)">26</text>
<line x1="804" y1="287" x2="814" y2="287" stroke="#222" stroke-width="1.1"/>
<text x="0" y="0" font-size="17.4" fill="#000" stroke="#000" stroke-width="0.35" text-anchor="start" font-weight="normal" transform="translate(824.12 293.8) scale(0.9700 1.0000)">24</text>
<line x1="804" y1="332" x2="814" y2="332" stroke="#222" stroke-width="1.1"/>
<text x="0" y="0" font-size="17.4" fill="#000" stroke="#000" stroke-width="0.35" text-anchor="start" font-weight="normal" transform="translate(824.12 338.8) scale(0.9700 1.0000)">22</text>
<line x1="804" y1="376.2" x2="814" y2="376.2" stroke="#222" stroke-width="1.1"/>
<text x="0" y="0" font-size="17.4" fill="#000" stroke="#000" stroke-width="0.35" text-anchor="start" font-weight="normal" transform="translate(824.12 383) scale(0.9700 1.0000)">20</text>
<line x1="804" y1="419.1" x2="814" y2="419.1" stroke="#222" stroke-width="1.1"/>
<text x="0" y="0" font-size="17.4" fill="#000" stroke="#000" stroke-width="0.35" text-anchor="start" font-weight="normal" transform="translate(824.12 425.9) scale(0.9700 1.0000)">18</text>
<line x1="804" y1="462" x2="814" y2="462" stroke="#222" stroke-width="1.1"/>
<text x="0" y="0" font-size="17.4" fill="#000" stroke="#000" stroke-width="0.35" text-anchor="start" font-weight="normal" transform="translate(824.12 468.8) scale(0.9700 1.0000)">16</text>
<line x1="804" y1="504.2" x2="814" y2="504.2" stroke="#222" stroke-width="1.1"/>
<text x="0" y="0" font-size="17.4" fill="#000" stroke="#000" stroke-width="0.35" text-anchor="start" font-weight="normal" transform="translate(824.12 511) scale(0.9700 1.0000)">14</text>
<line x1="804" y1="545" x2="814" y2="545" stroke="#222" stroke-width="1.1"/>
<text x="0" y="0" font-size="17.4" fill="#000" stroke="#000" stroke-width="0.35" text-anchor="start" font-weight="normal" transform="translate(824.12 551.8) scale(0.9700 1.0000)">12</text>
<line x1="804" y1="587" x2="814" y2="587" stroke="#222" stroke-width="1.1"/>
<text x="0" y="0" font-size="17.4" fill="#000" stroke="#000" stroke-width="0.35" text-anchor="start" font-weight="normal" transform="translate(824.12 593.8) scale(0.9700 1.0000)">10</text>
<line x1="804" y1="626" x2="814" y2="626" stroke="#222" stroke-width="1.1"/>
<text x="0" y="0" font-size="17.4" fill="#000" stroke="#000" stroke-width="0.35" text-anchor="start" font-weight="normal" transform="translate(824.12 632.8) scale(0.9700 1.0000)">8</text>
<line x1="804" y1="665" x2="814" y2="665" stroke="#222" stroke-width="1.1"/>
<text x="0" y="0" font-size="17.4" fill="#000" stroke="#000" stroke-width="0.35" text-anchor="start" font-weight="normal" transform="translate(824.12 671.8) scale(0.9700 1.0000)">6</text>
<line x1="804" y1="705.6" x2="814" y2="705.6" stroke="#222" stroke-width="1.1"/>
<text x="0" y="0" font-size="17.4" fill="#000" stroke="#000" stroke-width="0.35" text-anchor="start" font-weight="normal" transform="translate(824.12 712.4) scale(0.9700 1.0000)">4</text>
<line x1="804" y1="743.2" x2="814" y2="743.2" stroke="#222" stroke-width="1.1"/>
<text x="0" y="0" font-size="17.4" fill="#000" stroke="#000" stroke-width="0.35" text-anchor="start" font-weight="normal" transform="translate(824.12 750) scale(0.9700 1.0000)">2</text>
<line x1="804" y1="781.5" x2="814" y2="781.5" stroke="#222" stroke-width="1.1"/>
<text x="0" y="0" font-size="17.4" fill="#000" stroke="#000" stroke-width="0.35" text-anchor="start" font-weight="normal" transform="translate(824.12 788.3) scale(0.9700 1.0000)">0</text>
<text x="0" y="0" font-size="18.8" fill="#000" stroke="#000" stroke-width="0.25" text-anchor="start" font-weight="normal" transform="translate(774.1 355.65) rotate(90) scale(0.9000 1.0000)">Height (1000 Feet)</text>
</svg></body></html>
